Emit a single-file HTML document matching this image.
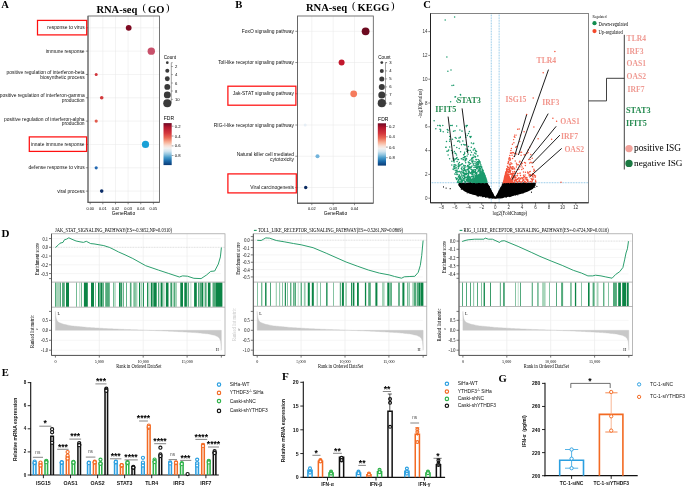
<!DOCTYPE html>
<html><head><meta charset="utf-8"><title>Figure</title>
<style>html,body{margin:0;padding:0;background:#fff;width:685px;height:488px;overflow:hidden;font-family:'Liberation Sans',sans-serif}svg{display:block;will-change:transform}</style>
</head><body>
<svg width="685" height="488" viewBox="0 0 685 488"><text x="1.2" y="4.32" font-size="10.6" text-anchor="start" font-family="'Liberation Serif', serif" font-weight="bold" fill="#000" dominant-baseline="central">A</text>
<text x="96.4" y="9.06" font-size="10.5" text-anchor="start" font-family="'Liberation Serif', serif" font-weight="bold" fill="#000" dominant-baseline="central">RNA-seq</text>
<text x="142.4" y="7.86" font-size="10.5" text-anchor="start" font-family="'Liberation Serif', serif" font-weight="normal" fill="#000" dominant-baseline="central">(</text>
<text x="148.1" y="9.06" font-size="10.5" text-anchor="start" font-family="'Liberation Serif', serif" font-weight="bold" fill="#000" dominant-baseline="central">GO</text>
<text x="165.9" y="7.86" font-size="10.5" text-anchor="start" font-family="'Liberation Serif', serif" font-weight="normal" fill="#000" dominant-baseline="central">)</text>
<line x1="90.2" y1="16" x2="90.2" y2="202.3" stroke="#e6e6e6" stroke-width="0.5"/>
<line x1="102.84" y1="16" x2="102.84" y2="202.3" stroke="#e6e6e6" stroke-width="0.5"/>
<line x1="115.48" y1="16" x2="115.48" y2="202.3" stroke="#e6e6e6" stroke-width="0.5"/>
<line x1="128.12" y1="16" x2="128.12" y2="202.3" stroke="#e6e6e6" stroke-width="0.5"/>
<line x1="140.76" y1="16" x2="140.76" y2="202.3" stroke="#e6e6e6" stroke-width="0.5"/>
<line x1="153.4" y1="16" x2="153.4" y2="202.3" stroke="#e6e6e6" stroke-width="0.5"/>
<line x1="88" y1="27.8" x2="159.5" y2="27.8" stroke="#e6e6e6" stroke-width="0.5"/>
<line x1="88" y1="51.13" x2="159.5" y2="51.13" stroke="#e6e6e6" stroke-width="0.5"/>
<line x1="88" y1="74.46" x2="159.5" y2="74.46" stroke="#e6e6e6" stroke-width="0.5"/>
<line x1="88" y1="97.79" x2="159.5" y2="97.79" stroke="#e6e6e6" stroke-width="0.5"/>
<line x1="88" y1="121.12" x2="159.5" y2="121.12" stroke="#e6e6e6" stroke-width="0.5"/>
<line x1="88" y1="144.45" x2="159.5" y2="144.45" stroke="#e6e6e6" stroke-width="0.5"/>
<line x1="88" y1="167.78" x2="159.5" y2="167.78" stroke="#e6e6e6" stroke-width="0.5"/>
<line x1="88" y1="191.11" x2="159.5" y2="191.11" stroke="#e6e6e6" stroke-width="0.5"/>
<rect x="88" y="16" width="71.5" height="186.3" fill="none" stroke="#555" stroke-width="0.8"/>
<line x1="88" y1="16" x2="88" y2="202.7" stroke="#666" stroke-width="1"/>
<line x1="87.6" y1="202.3" x2="159.5" y2="202.3" stroke="#555" stroke-width="1"/>
<line x1="85.8" y1="27.8" x2="88" y2="27.8" stroke="#444" stroke-width="0.6"/>
<line x1="85.8" y1="51.13" x2="88" y2="51.13" stroke="#444" stroke-width="0.6"/>
<line x1="85.8" y1="74.46" x2="88" y2="74.46" stroke="#444" stroke-width="0.6"/>
<line x1="85.8" y1="97.79" x2="88" y2="97.79" stroke="#444" stroke-width="0.6"/>
<line x1="85.8" y1="121.12" x2="88" y2="121.12" stroke="#444" stroke-width="0.6"/>
<line x1="85.8" y1="144.45" x2="88" y2="144.45" stroke="#444" stroke-width="0.6"/>
<line x1="85.8" y1="167.78" x2="88" y2="167.78" stroke="#444" stroke-width="0.6"/>
<line x1="85.8" y1="191.11" x2="88" y2="191.11" stroke="#444" stroke-width="0.6"/>
<line x1="90.2" y1="202.3" x2="90.2" y2="204.3" stroke="#444" stroke-width="0.6"/>
<text x="90.2" y="208.6" font-size="3.9" text-anchor="middle" font-family="'Liberation Sans', sans-serif" font-weight="normal" fill="#000" dominant-baseline="central">0.00</text>
<line x1="102.84" y1="202.3" x2="102.84" y2="204.3" stroke="#444" stroke-width="0.6"/>
<text x="102.84" y="208.6" font-size="3.9" text-anchor="middle" font-family="'Liberation Sans', sans-serif" font-weight="normal" fill="#000" dominant-baseline="central">0.01</text>
<line x1="115.48" y1="202.3" x2="115.48" y2="204.3" stroke="#444" stroke-width="0.6"/>
<text x="115.48" y="208.6" font-size="3.9" text-anchor="middle" font-family="'Liberation Sans', sans-serif" font-weight="normal" fill="#000" dominant-baseline="central">0.02</text>
<line x1="128.12" y1="202.3" x2="128.12" y2="204.3" stroke="#444" stroke-width="0.6"/>
<text x="128.12" y="208.6" font-size="3.9" text-anchor="middle" font-family="'Liberation Sans', sans-serif" font-weight="normal" fill="#000" dominant-baseline="central">0.03</text>
<line x1="140.76" y1="202.3" x2="140.76" y2="204.3" stroke="#444" stroke-width="0.6"/>
<text x="140.76" y="208.6" font-size="3.9" text-anchor="middle" font-family="'Liberation Sans', sans-serif" font-weight="normal" fill="#000" dominant-baseline="central">0.04</text>
<line x1="153.4" y1="202.3" x2="153.4" y2="204.3" stroke="#444" stroke-width="0.6"/>
<text x="153.4" y="208.6" font-size="3.9" text-anchor="middle" font-family="'Liberation Sans', sans-serif" font-weight="normal" fill="#000" dominant-baseline="central">0.05</text>
<text x="123.5" y="213.6" font-size="4.9" text-anchor="middle" font-family="'Liberation Sans', sans-serif" font-weight="normal" fill="#000" dominant-baseline="central">GeneRatio</text>
<text x="84.6" y="27.8" font-size="4.9" text-anchor="end" font-family="'Liberation Sans', sans-serif" font-weight="normal" fill="#111" dominant-baseline="central">response to virus</text>
<text x="84.6" y="51.13" font-size="4.9" text-anchor="end" font-family="'Liberation Sans', sans-serif" font-weight="normal" fill="#111" dominant-baseline="central">immune response</text>
<text x="84.6" y="72.46" font-size="4.9" text-anchor="end" font-family="'Liberation Sans', sans-serif" font-weight="normal" fill="#111" dominant-baseline="central">positive regulation of interferon-beta</text>
<text x="84.6" y="77.26" font-size="4.9" text-anchor="end" font-family="'Liberation Sans', sans-serif" font-weight="normal" fill="#111" dominant-baseline="central">biosynthetic process</text>
<text x="84.6" y="95.79" font-size="4.9" text-anchor="end" font-family="'Liberation Sans', sans-serif" font-weight="normal" fill="#111" dominant-baseline="central">positive regulation of interferon-gamma</text>
<text x="84.6" y="100.59" font-size="4.9" text-anchor="end" font-family="'Liberation Sans', sans-serif" font-weight="normal" fill="#111" dominant-baseline="central">production</text>
<text x="84.6" y="119.12" font-size="4.9" text-anchor="end" font-family="'Liberation Sans', sans-serif" font-weight="normal" fill="#111" dominant-baseline="central">positive regulation of interferon-alpha</text>
<text x="84.6" y="123.92" font-size="4.9" text-anchor="end" font-family="'Liberation Sans', sans-serif" font-weight="normal" fill="#111" dominant-baseline="central">production</text>
<text x="84.6" y="144.45" font-size="4.9" text-anchor="end" font-family="'Liberation Sans', sans-serif" font-weight="normal" fill="#111" dominant-baseline="central">innate immune response</text>
<text x="84.6" y="167.78" font-size="4.9" text-anchor="end" font-family="'Liberation Sans', sans-serif" font-weight="normal" fill="#111" dominant-baseline="central">defense response to virus</text>
<text x="84.6" y="191.11" font-size="4.9" text-anchor="end" font-family="'Liberation Sans', sans-serif" font-weight="normal" fill="#111" dominant-baseline="central">viral process</text>
<circle cx="128.7" cy="27.8" r="2.9" fill="#7f0a22" stroke="none" stroke-width="0"/>
<circle cx="151.3" cy="51.13" r="3.7" fill="#c8506a" stroke="none" stroke-width="0"/>
<circle cx="96.2" cy="74.46" r="1.5" fill="#d1343a" stroke="none" stroke-width="0"/>
<circle cx="101.7" cy="97.79" r="1.8" fill="#d33a3c" stroke="none" stroke-width="0"/>
<circle cx="96.2" cy="121.12" r="1.6" fill="#e25a4c" stroke="none" stroke-width="0"/>
<circle cx="145.5" cy="144.45" r="3.6" fill="#1aa0d6" stroke="none" stroke-width="0"/>
<circle cx="96.2" cy="167.78" r="1.6" fill="#2368b2" stroke="none" stroke-width="0"/>
<circle cx="101.7" cy="191.11" r="1.8" fill="#0b2d68" stroke="none" stroke-width="0"/>
<rect x="37.5" y="20.4" width="49.2" height="14.5" fill="none" stroke="#ff1010" stroke-width="1.25"/>
<rect x="29.3" y="136.9" width="57.3" height="14.5" fill="none" stroke="#ff1010" stroke-width="1.25"/>
<text x="163.8" y="57" font-size="4.6" text-anchor="start" font-family="'Liberation Sans', sans-serif" font-weight="normal" fill="#000" dominant-baseline="central">Count</text>
<circle cx="167.3" cy="62.7" r="1.35" fill="#3a3a3a" stroke="none" stroke-width="0"/>
<circle cx="167.3" cy="70.7" r="2" fill="#3a3a3a" stroke="none" stroke-width="0"/>
<circle cx="167.3" cy="78.8" r="2.45" fill="#3a3a3a" stroke="none" stroke-width="0"/>
<circle cx="167.3" cy="86.9" r="2.95" fill="#3a3a3a" stroke="none" stroke-width="0"/>
<circle cx="167.3" cy="94.9" r="3.45" fill="#3a3a3a" stroke="none" stroke-width="0"/>
<circle cx="167.3" cy="103.2" r="4.05" fill="#3a3a3a" stroke="none" stroke-width="0"/>
<line x1="171.3" y1="62.7" x2="171.3" y2="103.2" stroke="#444" stroke-width="0.5"/>
<line x1="171.3" y1="62.7" x2="172.7" y2="62.7" stroke="#444" stroke-width="0.5"/>
<line x1="171.3" y1="66.5" x2="172.9" y2="66.5" stroke="#444" stroke-width="0.5"/>
<text x="175" y="66.5" font-size="4.2" text-anchor="start" font-family="'Liberation Sans', sans-serif" font-weight="normal" fill="#000" dominant-baseline="central">2</text>
<line x1="171.3" y1="74.6" x2="172.9" y2="74.6" stroke="#444" stroke-width="0.5"/>
<text x="175" y="74.6" font-size="4.2" text-anchor="start" font-family="'Liberation Sans', sans-serif" font-weight="normal" fill="#000" dominant-baseline="central">4</text>
<line x1="171.3" y1="83" x2="172.9" y2="83" stroke="#444" stroke-width="0.5"/>
<text x="175" y="83" font-size="4.2" text-anchor="start" font-family="'Liberation Sans', sans-serif" font-weight="normal" fill="#000" dominant-baseline="central">6</text>
<line x1="171.3" y1="91" x2="172.9" y2="91" stroke="#444" stroke-width="0.5"/>
<text x="175" y="91" font-size="4.2" text-anchor="start" font-family="'Liberation Sans', sans-serif" font-weight="normal" fill="#000" dominant-baseline="central">8</text>
<line x1="171.3" y1="99.4" x2="172.9" y2="99.4" stroke="#444" stroke-width="0.5"/>
<text x="175" y="99.4" font-size="4.2" text-anchor="start" font-family="'Liberation Sans', sans-serif" font-weight="normal" fill="#000" dominant-baseline="central">10</text>
<defs><linearGradient id="rdbu" x1="0" y1="0" x2="0" y2="1"><stop offset="0" stop-color="#6e0824"/><stop offset="0.1" stop-color="#b3172e"/><stop offset="0.24" stop-color="#d4373d"/><stop offset="0.35" stop-color="#ea6a56"/><stop offset="0.45" stop-color="#f8ae93"/><stop offset="0.54" stop-color="#f8e0d6"/><stop offset="0.6" stop-color="#f1f1f1"/><stop offset="0.67" stop-color="#d0e4ef"/><stop offset="0.74" stop-color="#93c6e0"/><stop offset="0.82" stop-color="#4499c9"/><stop offset="0.9" stop-color="#1b6aaa"/><stop offset="1" stop-color="#0a3a75"/></linearGradient></defs>
<text x="163.8" y="118.4" font-size="5" text-anchor="start" font-family="'Liberation Sans', sans-serif" font-weight="normal" fill="#000" dominant-baseline="central">FDR</text>
<rect x="163.5" y="123.1" width="8.2" height="42" fill="url(#rdbu)" stroke="none" stroke-width="0"/>
<line x1="171.7" y1="126.2" x2="173.5" y2="126.2" stroke="#444" stroke-width="0.5"/>
<text x="174.7" y="126.2" font-size="4.2" text-anchor="start" font-family="'Liberation Sans', sans-serif" font-weight="normal" fill="#000" dominant-baseline="central">0.2</text>
<line x1="171.7" y1="136" x2="173.5" y2="136" stroke="#444" stroke-width="0.5"/>
<text x="174.7" y="136" font-size="4.2" text-anchor="start" font-family="'Liberation Sans', sans-serif" font-weight="normal" fill="#000" dominant-baseline="central">0.4</text>
<line x1="171.7" y1="145.9" x2="173.5" y2="145.9" stroke="#444" stroke-width="0.5"/>
<text x="174.7" y="145.9" font-size="4.2" text-anchor="start" font-family="'Liberation Sans', sans-serif" font-weight="normal" fill="#000" dominant-baseline="central">0.6</text>
<line x1="171.7" y1="155.5" x2="173.5" y2="155.5" stroke="#444" stroke-width="0.5"/>
<text x="174.7" y="155.5" font-size="4.2" text-anchor="start" font-family="'Liberation Sans', sans-serif" font-weight="normal" fill="#000" dominant-baseline="central">0.8</text>
<text x="235.2" y="4.82" font-size="10.6" text-anchor="start" font-family="'Liberation Serif', serif" font-weight="bold" fill="#000" dominant-baseline="central">B</text>
<text x="305.9" y="7.02" font-size="10.6" text-anchor="start" font-family="'Liberation Serif', serif" font-weight="bold" fill="#000" dominant-baseline="central">RNA-seq</text>
<text x="351.9" y="5.82" font-size="10.6" text-anchor="start" font-family="'Liberation Serif', serif" font-weight="normal" fill="#000" dominant-baseline="central">(</text>
<text x="357.6" y="7.02" font-size="10.6" text-anchor="start" font-family="'Liberation Serif', serif" font-weight="bold" fill="#000" dominant-baseline="central">KEGG</text>
<text x="390.9" y="5.82" font-size="10.6" text-anchor="start" font-family="'Liberation Serif', serif" font-weight="normal" fill="#000" dominant-baseline="central">)</text>
<line x1="311.8" y1="16" x2="311.8" y2="203.2" stroke="#e6e6e6" stroke-width="0.5"/>
<line x1="333.2" y1="16" x2="333.2" y2="203.2" stroke="#e6e6e6" stroke-width="0.5"/>
<line x1="354.5" y1="16" x2="354.5" y2="203.2" stroke="#e6e6e6" stroke-width="0.5"/>
<line x1="297.5" y1="31.3" x2="373.3" y2="31.3" stroke="#e6e6e6" stroke-width="0.5"/>
<line x1="297.5" y1="62.54" x2="373.3" y2="62.54" stroke="#e6e6e6" stroke-width="0.5"/>
<line x1="297.5" y1="93.78" x2="373.3" y2="93.78" stroke="#e6e6e6" stroke-width="0.5"/>
<line x1="297.5" y1="125.02" x2="373.3" y2="125.02" stroke="#e6e6e6" stroke-width="0.5"/>
<line x1="297.5" y1="156.26" x2="373.3" y2="156.26" stroke="#e6e6e6" stroke-width="0.5"/>
<line x1="297.5" y1="187.5" x2="373.3" y2="187.5" stroke="#e6e6e6" stroke-width="0.5"/>
<rect x="297.5" y="16" width="75.8" height="187.2" fill="none" stroke="#555" stroke-width="0.8"/>
<line x1="297.5" y1="16" x2="297.5" y2="203.6" stroke="#666" stroke-width="1"/>
<line x1="297.1" y1="203.2" x2="373.3" y2="203.2" stroke="#555" stroke-width="1"/>
<line x1="295.3" y1="31.3" x2="297.5" y2="31.3" stroke="#444" stroke-width="0.6"/>
<line x1="295.3" y1="62.54" x2="297.5" y2="62.54" stroke="#444" stroke-width="0.6"/>
<line x1="295.3" y1="93.78" x2="297.5" y2="93.78" stroke="#444" stroke-width="0.6"/>
<line x1="295.3" y1="125.02" x2="297.5" y2="125.02" stroke="#444" stroke-width="0.6"/>
<line x1="295.3" y1="156.26" x2="297.5" y2="156.26" stroke="#444" stroke-width="0.6"/>
<line x1="295.3" y1="187.5" x2="297.5" y2="187.5" stroke="#444" stroke-width="0.6"/>
<line x1="311.8" y1="203.2" x2="311.8" y2="205.2" stroke="#444" stroke-width="0.6"/>
<text x="311.8" y="208.8" font-size="3.9" text-anchor="middle" font-family="'Liberation Sans', sans-serif" font-weight="normal" fill="#000" dominant-baseline="central">0.02</text>
<line x1="333.2" y1="203.2" x2="333.2" y2="205.2" stroke="#444" stroke-width="0.6"/>
<text x="333.2" y="208.8" font-size="3.9" text-anchor="middle" font-family="'Liberation Sans', sans-serif" font-weight="normal" fill="#000" dominant-baseline="central">0.03</text>
<line x1="354.5" y1="203.2" x2="354.5" y2="205.2" stroke="#444" stroke-width="0.6"/>
<text x="354.5" y="208.8" font-size="3.9" text-anchor="middle" font-family="'Liberation Sans', sans-serif" font-weight="normal" fill="#000" dominant-baseline="central">0.04</text>
<text x="335.5" y="213.6" font-size="4.9" text-anchor="middle" font-family="'Liberation Sans', sans-serif" font-weight="normal" fill="#000" dominant-baseline="central">GeneRatio</text>
<text x="294" y="31.5" font-size="4.9" text-anchor="end" font-family="'Liberation Sans', sans-serif" font-weight="normal" fill="#111" dominant-baseline="central">FoxO signaling pathway</text>
<text x="294" y="62.74" font-size="4.9" text-anchor="end" font-family="'Liberation Sans', sans-serif" font-weight="normal" fill="#111" dominant-baseline="central">Toll-like receptor signaling pathway</text>
<text x="294" y="93.98" font-size="4.9" text-anchor="end" font-family="'Liberation Sans', sans-serif" font-weight="normal" fill="#111" dominant-baseline="central">Jak-STAT signaling pathway</text>
<text x="294" y="125.22" font-size="4.9" text-anchor="end" font-family="'Liberation Sans', sans-serif" font-weight="normal" fill="#111" dominant-baseline="central">RIG-I-like receptor signaling pathway</text>
<text x="294" y="154.26" font-size="4.9" text-anchor="end" font-family="'Liberation Sans', sans-serif" font-weight="normal" fill="#111" dominant-baseline="central">Natural killer cell mediated</text>
<text x="294" y="159.06" font-size="4.9" text-anchor="end" font-family="'Liberation Sans', sans-serif" font-weight="normal" fill="#111" dominant-baseline="central">cytotoxicity</text>
<text x="294" y="187.7" font-size="4.9" text-anchor="end" font-family="'Liberation Sans', sans-serif" font-weight="normal" fill="#111" dominant-baseline="central">Viral carcinogenesis</text>
<circle cx="365.6" cy="31.3" r="3.9" fill="#6d0a20" stroke="none" stroke-width="0"/>
<circle cx="341.6" cy="62.54" r="3" fill="#c2182d" stroke="none" stroke-width="0"/>
<circle cx="353.7" cy="93.78" r="3.4" fill="#f57b5d" stroke="none" stroke-width="0"/>
<circle cx="305.2" cy="125.02" r="1.5" fill="#e6eef5" stroke="none" stroke-width="0"/>
<circle cx="317.5" cy="156.26" r="2" fill="#72b4dc" stroke="none" stroke-width="0"/>
<circle cx="305.7" cy="187.5" r="1.7" fill="#0a2b62" stroke="none" stroke-width="0"/>
<rect x="227.9" y="86.2" width="68" height="19" fill="none" stroke="#ff1010" stroke-width="1.25"/>
<rect x="227.9" y="173.9" width="68.4" height="19" fill="none" stroke="#ff1010" stroke-width="1.25"/>
<text x="378.3" y="57" font-size="4.6" text-anchor="start" font-family="'Liberation Sans', sans-serif" font-weight="normal" fill="#000" dominant-baseline="central">Count</text>
<circle cx="381.8" cy="62.6" r="1.4" fill="#3a3a3a" stroke="none" stroke-width="0"/>
<circle cx="381.8" cy="70.9" r="2" fill="#3a3a3a" stroke="none" stroke-width="0"/>
<circle cx="381.8" cy="78.9" r="2.5" fill="#3a3a3a" stroke="none" stroke-width="0"/>
<circle cx="381.8" cy="86.9" r="3" fill="#3a3a3a" stroke="none" stroke-width="0"/>
<circle cx="381.8" cy="94.9" r="3.5" fill="#3a3a3a" stroke="none" stroke-width="0"/>
<circle cx="381.8" cy="103.2" r="4.1" fill="#3a3a3a" stroke="none" stroke-width="0"/>
<line x1="385.5" y1="62.6" x2="385.5" y2="103.2" stroke="#444" stroke-width="0.5"/>
<line x1="385.5" y1="62.6" x2="386.9" y2="62.6" stroke="#444" stroke-width="0.5"/>
<line x1="385.5" y1="62.6" x2="387.1" y2="62.6" stroke="#444" stroke-width="0.5"/>
<text x="389.2" y="62.6" font-size="4.2" text-anchor="start" font-family="'Liberation Sans', sans-serif" font-weight="normal" fill="#000" dominant-baseline="central">3</text>
<line x1="385.5" y1="70.9" x2="387.1" y2="70.9" stroke="#444" stroke-width="0.5"/>
<text x="389.2" y="70.9" font-size="4.2" text-anchor="start" font-family="'Liberation Sans', sans-serif" font-weight="normal" fill="#000" dominant-baseline="central">4</text>
<line x1="385.5" y1="78.9" x2="387.1" y2="78.9" stroke="#444" stroke-width="0.5"/>
<text x="389.2" y="78.9" font-size="4.2" text-anchor="start" font-family="'Liberation Sans', sans-serif" font-weight="normal" fill="#000" dominant-baseline="central">5</text>
<line x1="385.5" y1="86.9" x2="387.1" y2="86.9" stroke="#444" stroke-width="0.5"/>
<text x="389.2" y="86.9" font-size="4.2" text-anchor="start" font-family="'Liberation Sans', sans-serif" font-weight="normal" fill="#000" dominant-baseline="central">6</text>
<line x1="385.5" y1="94.9" x2="387.1" y2="94.9" stroke="#444" stroke-width="0.5"/>
<text x="389.2" y="94.9" font-size="4.2" text-anchor="start" font-family="'Liberation Sans', sans-serif" font-weight="normal" fill="#000" dominant-baseline="central">7</text>
<line x1="385.5" y1="103.2" x2="387.1" y2="103.2" stroke="#444" stroke-width="0.5"/>
<text x="389.2" y="103.2" font-size="4.2" text-anchor="start" font-family="'Liberation Sans', sans-serif" font-weight="normal" fill="#000" dominant-baseline="central">8</text>
<text x="378.1" y="118.9" font-size="5" text-anchor="start" font-family="'Liberation Sans', sans-serif" font-weight="normal" fill="#000" dominant-baseline="central">FDR</text>
<rect x="377.8" y="123.3" width="8.2" height="42.3" fill="url(#rdbu)" stroke="none" stroke-width="0"/>
<line x1="386" y1="126.5" x2="387.8" y2="126.5" stroke="#444" stroke-width="0.5"/>
<text x="389" y="126.5" font-size="4.2" text-anchor="start" font-family="'Liberation Sans', sans-serif" font-weight="normal" fill="#000" dominant-baseline="central">0.2</text>
<line x1="386" y1="136.8" x2="387.8" y2="136.8" stroke="#444" stroke-width="0.5"/>
<text x="389" y="136.8" font-size="4.2" text-anchor="start" font-family="'Liberation Sans', sans-serif" font-weight="normal" fill="#000" dominant-baseline="central">0.4</text>
<line x1="386" y1="147.1" x2="387.8" y2="147.1" stroke="#444" stroke-width="0.5"/>
<text x="389" y="147.1" font-size="4.2" text-anchor="start" font-family="'Liberation Sans', sans-serif" font-weight="normal" fill="#000" dominant-baseline="central">0.6</text>
<line x1="386" y1="157.7" x2="387.8" y2="157.7" stroke="#444" stroke-width="0.5"/>
<text x="389" y="157.7" font-size="4.2" text-anchor="start" font-family="'Liberation Sans', sans-serif" font-weight="normal" fill="#000" dominant-baseline="central">0.8</text>
<text x="423.3" y="4.22" font-size="10.6" text-anchor="start" font-family="'Liberation Serif', serif" font-weight="bold" fill="#000" dominant-baseline="central">C</text>
<line x1="491.27" y1="13.5" x2="491.27" y2="202.8" stroke="#4aa3d8" stroke-width="0.7" stroke-dasharray="0.8,0.8"/>
<line x1="499.13" y1="13.5" x2="499.13" y2="202.8" stroke="#4aa3d8" stroke-width="0.7" stroke-dasharray="0.8,0.8"/>
<line x1="430.5" y1="182.73" x2="588.5" y2="182.73" stroke="#4aa3d8" stroke-width="0.7" stroke-dasharray="0.8,0.8"/>
<polygon points="458.58,182.73 487.47,182.73 495.2,197.96 503.4,182.73 535.86,182.73 535.52,185.7 532.83,188.92 527.46,191.66 520.74,193.92 513.34,195.82 505.28,197.13 495.2,198.2 485.12,197.01 476.38,195.58 469.66,193.68 464.29,191.3 460.26,188.08 458.58,185.11" fill="#000" stroke="none" stroke-width="0"/>
<path d="M476.1 183.1h0M497.4 197h0M489.9 189.8h0M497.2 197.3h0M506.7 193.6h0M474.1 183.9h0M481 189h0M494.8 197.5h0M479.8 192.6h0M496.2 196.6h0M482.9 194.4h0M495 198.1h0M507.4 183h0M474.3 183.8h0M485.7 187h0M473.2 185.1h0M497.8 193.9h0M487.3 193.2h0M496.3 198.1h0M525.4 187.4h0M482 188.3h0M515 183.9h0M512.8 195.3h0M487.2 187.7h0M524.7 184h0M519.4 190.7h0M503.3 186.4h0M514.2 182.9h0M490.2 191h0M490.3 197.5h0M510.7 185.7h0M478.2 184.4h0M466 186.3h0M481.6 190h0M485.8 197.3h0M503.5 195.3h0M497.9 194.6h0M485.9 186.1h0M489.7 194.6h0M480 192.9h0M502.6 187.9h0M513.1 183.5h0M480.3 184h0M522.1 190.3h0M513 183.2h0M489.7 189.6h0M489.8 192.5h0M504.6 190.4h0M521.3 187.8h0M501.1 192.5h0M494.9 198.1h0M485 188.9h0M495.9 198.1h0M507.2 196.5h0M485.1 183.5h0M508.2 187.9h0M483.4 193.9h0M502.2 191.4h0M501.8 192.3h0M493.5 195.8h0M496.5 196.5h0M478.1 183.6h0M503.6 189.6h0M489.3 186.6h0M486.6 186.2h0M493.7 198h0M505.2 193.5h0M509 186.7h0M493.5 195.6h0M483.5 187.9h0M491.1 194.7h0M480.9 195.4h0M462.2 183.6h0M500.5 197.4h0M504.8 187.3h0M499.8 194.1h0M505 189.1h0M505.4 186.5h0M479.2 187.1h0M506.3 188.4h0M515.5 193.9h0M501.3 197.3h0M492.8 197.8h0M495.6 197.9h0M489 186.4h0M496.4 196.1h0M477.4 191.9h0M496.7 195.3h0M503.5 194.4h0M503 184.8h0M481.4 191.3h0M494.4 196.9h0M494.1 196.6h0M519 189.2h0M485.6 190.9h0M506 192.8h0M485.3 193.1h0M485.5 186.1h0M480.6 184.4h0M499.4 194.3h0M474.8 183h0M515.4 185.5h0M478.9 186.3h0M506.8 193h0M489.9 191.2h0M462.8 185.6h0M477.2 193.1h0M503 186.3h0M458.7 184.9h0M486 187h0M509.1 186h0M496.7 197.4h0M488 192.3h0M489 186h0M505 196.7h0M523.2 187h0M506.3 191.7h0M472.1 187.6h0M489.8 190.2h0M473.1 187.9h0M495 198h0M516.2 188.5h0M502.5 186.9h0M494.6 197.8h0M490.4 195.5h0M462.6 186.4h0M479.7 194.3h0M492.4 194.7h0M510.8 192.6h0M482.9 185.5h0M488.6 190.2h0M498.8 194.8h0M487.5 189.3h0M507.2 186.2h0M491.6 197.6h0M488.8 189.3h0M514.8 185h0M487.4 192.4h0M502.5 190.2h0M508.1 187.7h0M497.2 197.6h0M485 183.7h0M520.5 191.2h0M498.1 197.6h0M501.2 188.6h0M494.5 197.5h0M484.7 187.2h0M519.7 184.3h0M499.6 196.3h0M489.2 194h0M475.2 184.3h0M498.2 196.3h0M510.1 190.5h0M501.9 190h0M479.1 182.9h0M496.8 196.2h0M504.6 195.4h0M507.2 190.9h0M492.5 195.8h0M509.2 187.3h0M468.8 191.7h0M482.3 194h0M511.8 184.3h0M501.9 193.2h0M488.3 194.8h0M494.4 197.1h0M491.1 197.6h0M504.3 189h0M481.1 195.5h0M507.3 183h0M498.6 194.1h0M498.3 197.5h0M491.5 198h0M492.5 196.7h0M487.3 187.7h0M491.2 194.5h0M484 193.1h0M483.5 192.1h0M490.5 195.7h0M492.5 198.1h0M505.3 192.9h0M486.3 196h0M489.4 188.4h0M479.4 192.2h0M498.3 192.7h0M495.7 197.6h0M476.4 186.8h0M481.3 191.4h0M495.2 198.2h0M479 189.1h0M498.4 193.1h0M502.7 197.5h0M489.2 194.5h0M518.7 187.2h0M500 195.4h0M505 185.2h0M520.5 186.3h0M487.2 190.9h0M474.5 190.3h0M469 182.8h0M486.2 184h0M497.9 196.8h0M490.7 189.5h0M479.6 192.3h0M490.8 190.7h0M490.9 197.4h0M497.4 197.5h0M495.1 198.1h0M491 193.5h0M490.2 188.9h0M474.3 187.9h0M504.2 189h0M502.2 185.7h0M508.5 187.4h0M498.2 194.9h0M509.5 192.1h0M478.4 196.1h0M486.3 194.4h0M490 197.3h0M487.4 186.4h0M478.2 188.7h0M524.4 191.6h0M488.4 187.1h0M487.3 186.9h0M495.4 198.2h0M490.6 190.9h0M500.9 197.7h0M502.2 195.7h0M461.8 187.9h0M500.8 195.2h0M499.2 193.1h0M487.6 188.8h0M498.9 194h0M493.6 197h0M499.8 191.7h0M486 194.9h0M459.9 186.5h0M496.3 197.6h0M512.7 195.3h0M485.2 194.8h0M496.1 196.7h0M506.3 187.1h0M515 187.5h0M492.7 196.2h0M492 197.8h0M479.9 189.8h0M482.9 196.5h0M506.2 197h0M508.1 192.4h0M493.8 197.8h0M470.3 192.1h0M478.8 189.6h0M472.3 188h0M495.2 198.2h0M503.2 196.6h0M515.3 184.5h0M503.7 190.7h0M497 195.2h0M478.9 186h0M480 186.6h0M519 192.7h0M503.2 195.3h0M498.3 192.7h0M496 197.6h0M498.8 192.2h0M497.3 195.6h0M498.4 197.4h0M493.3 197.1h0M497.6 197.2h0M501.3 190.4h0M499.2 193.9h0M502.3 192.7h0M505.5 190h0M509.3 191.4h0M491.4 193.6h0M495.8 198h0M494.3 196.5h0M496.8 196.4h0M482.1 183.6h0M505.7 195.5h0M479.5 191.4h0M509.3 186.9h0M498.5 196.3h0M493.1 196.9h0M495.2 198.2h0M471.7 183.6h0M500.5 189.2h0M507.6 186.1h0M523.7 185.4h0M519.6 184.3h0M483.3 183.3h0M509.2 184.2h0M470.2 182.7h0M482.1 185h0M476.2 193.9h0M466.9 188.8h0M488.6 188h0M492.4 197.8h0M487.7 193.1h0M487.3 188.7h0M500.5 189.2h0M508.9 182.9h0M494.2 196.8h0M508 194.4h0M500.4 192.4h0M487.9 193.1h0M495.8 198.2h0M495.2 198.2h0M488.7 189.8h0M514.8 192.7h0M503.7 190.5h0M490.7 189.8h0M469.1 189.1h0M489.6 194.6h0M507.5 186.5h0M475.3 193.6h0M499.9 190.9h0M504.1 188.5h0M493.3 197.6h0M508.8 194.4h0M498.3 193.8h0M477.1 183.2h0M486.4 196.8h0M498.2 195.5h0M497.3 194.8h0M488.4 186.5h0M479.7 191.5h0M509.8 196.4h0M507.7 193.9h0M503 196.8h0M496.7 196.6h0M507.9 185.3h0M508.4 192.1h0M509.8 186.5h0M509 184.4h0M478.5 184.6h0M489.3 190.2h0M506.1 186h0M493.5 196h0M493.3 196.4h0M495.6 198h0M482.3 189.8h0M485.6 196.7h0M507.6 187.3h0M508.7 182.9h0M498.2 195.5h0M484.5 190h0M499.7 190h0M482.5 190.2h0M482.9 192h0M504.4 182.7h0M508.2 195.9h0M499.1 192.9h0M499.7 194.4h0M501.4 190.7h0M496.4 197.5h0M480.7 191.6h0M502.3 197.7h0M489.2 187.6h0M488.1 196h0M496 196.8h0M495.2 198.2h0M490.3 196h0M477.9 195.5h0M501.3 186.9h0M491.4 192.3h0M501.6 196.6h0M514.2 189.7h0M499.7 190.1h0M497.5 198h0M486.4 188.7h0M484 183.9h0M497.3 197.3h0M491.9 192.2h0M491.1 190.5h0M486.5 186.9h0M487.2 184.2h0M496.3 197.1h0M491.5 197.1h0M463.7 183.9h0M485.8 193.9h0M484.1 194.9h0M491.4 192.6h0M495.9 197.6h0M483 187.1h0M493.1 197.7h0M480.3 195.4h0M507.4 190h0M517.2 187.1h0M486.7 195.1h0M504.9 183.1h0M489.6 190.4h0M490.9 193h0M477.8 188h0M480.2 184.5h0M508.7 187.7h0M492.6 196.2h0M484.3 187.9h0M502 193.2h0M479.6 185.5h0M516.1 186.8h0M502.6 188.7h0M484.2 193.7h0M492.7 194.3h0M500.9 187.8h0M490.9 197.1h0M507.6 195.1h0M476.9 194.9h0M473.6 192h0M495.7 197.2h0M485.6 192.3h0M486.3 193.3h0M496.7 196.9h0M491.4 197.9h0M516.6 187.2h0M499.1 196.6h0M483.9 195.6h0M516.3 187.7h0M506.3 197.2h0M477.8 191.9h0M500.5 197.7h0M484.2 183.1h0M501.2 193.8h0M519.1 187.7h0M482.5 195.3h0M497.3 195.9h0M489.7 197h0M506.7 195h0M502.8 183.3h0M469.9 183.2h0M481.7 186.2h0M485.9 186h0M483.1 187.5h0M504.2 191.5h0M509 189.6h0M490.5 192.8h0M475.2 185.4h0M497.9 197.4h0M489.9 197.5h0M513.3 191.9h0M523.9 188.4h0M478.3 192.5h0M498.9 192.4h0M482.4 185.6h0M517.8 194.8h0M489.5 188.2h0M493.4 197.9h0M492.7 195.3h0M518.1 186.7h0M481.3 194h0M503.7 190.8h0M494.3 198h0M515.3 193.8h0M500.6 191.9h0M510.9 196.5h0M520.6 189.7h0M493.1 197.5h0M512.1 193.9h0M462.4 184.8h0M508.3 194.1h0M466.4 191.5h0M500.2 189.3h0M503.6 184.1h0M488.3 193.2h0M496.4 197.6h0M482.4 186h0M478 190.3h0M480.7 191.6h0M499.2 194.5h0M486.8 192.8h0M475.7 188.4h0M497.7 196.3h0M498.4 195.9h0M500.6 193.6h0M496.3 196.1h0M496.9 197.1h0M492.4 196.1h0M492.5 195h0M502 186.9h0M489 196.7h0M500.9 197.8h0M496.1 196.9h0M485.5 185.8h0M502.7 193.2h0M499.6 191.5h0M494.3 197.4h0M483.8 192.2h0M471.7 191.5h0M499.4 191.4h0M511.2 183.3h0M486.4 183.7h0M514.9 193h0M531.7 183.4h0M503.5 191.1h0M503.1 185.2h0M491.4 191.4h0M487 184.8h0M490.9 195.7h0M494.9 198h0M467.2 186.9h0M510.9 185.2h0M504.3 186.7h0M499.6 195.2h0M495.9 198.1h0M500 194.2h0M482.2 189h0M491.3 195.9h0M515.2 191.3h0M497.3 196.1h0M487.5 197h0M502.6 193.6h0M493.2 198.1h0M501.5 192h0M522.6 189.5h0M498.6 195.2h0M492.3 197.6h0M494.7 197.5h0M480.5 191.9h0M489.8 190h0M471.4 184.7h0M494.7 197.4h0M492.2 195.4h0M475.3 188.7h0M480.8 185.3h0M487.4 184.9h0M516.5 187.5h0M502.4 189.5h0M498.8 194.8h0M492.9 196.4h0M502.8 189.5h0M492.6 197.4h0M495.6 197.6h0M479.6 192.3h0M496.4 197.7h0M494.1 196.6h0M512.1 192.6h0M479.1 195.4h0M489.7 197.4h0M474.1 183.5h0M491.7 194.9h0M494.6 197.8h0M517.4 183.5h0M512.3 194.6h0M485.1 187.6h0M498.8 197.3h0M488.3 191.5h0M507.2 190.9h0M468.9 183.5h0M477.1 184h0M499.8 195.9h0M486.7 190.8h0M483.8 192.2h0M480.8 182.8h0M494.2 198h0M497.7 197.1h0M492.1 197.9h0M469.6 191.2h0M496.3 196.2h0M518.8 191.4h0M523.3 183h0M516.2 186.3h0M473.3 185.6h0M499 194.3h0M493 195.3h0M511.5 192h0M490.3 188.9h0M489.4 195.6h0M500.3 188.7h0M529 183.3h0M509.4 185.3h0M473.3 188.1h0M514.7 184.9h0M505 185.1h0M499.8 191.5h0M496.5 196.9h0M527.5 187.5h0M469.7 186.4h0M484.7 192.1h0M477.4 187.6h0M521.5 185.8h0M507.1 185.6h0M486.3 190.9h0M497.3 195.3h0M489 197.9h0M493.3 196.7h0M495.5 198.1h0M504.8 191.4h0M485.2 187.5h0M467.2 192.8h0M507.6 186.6h0M481.6 188.2h0M487.7 196.8h0M504.9 187.7h0M514.4 183.9h0M502 189.1h0M476 183.3h0M480.1 185.3h0M510.1 196.5h0M494.3 197.1h0M477.9 188h0M474.7 190.8h0M520.5 187h0M495.9 196.7h0M473.3 185.5h0M480.6 182.9h0M467.3 189h0M501.9 197.8h0M489.5 186.9h0M506.3 191.6h0M492 197.5h0M515.5 191.6h0M489.7 191.6h0M499.4 194.6h0M499.1 190.6h0M483.6 194.5h0M485.8 197.4h0M493.3 197.1h0M504 190.4h0M488.4 191h0M493.5 198h0M511.7 191.6h0M489.9 190h0M519.3 186.2h0M472.9 185.9h0M480.1 195.9h0M510.4 185h0M511.5 182.9h0M496.4 196.8h0M487.4 188.4h0M489.5 187.2h0M490.8 193.7h0M490.7 194.7h0M532.8 184.4h0M490.1 195.9h0M486.1 193.1h0M486 187.7h0M487.8 185h0M523.3 183.5h0M493.6 197.4h0M497.8 195.2h0M490 197.3h0M521.8 192.2h0M514.3 186.4h0M494.5 197.2h0M495.1 198.2h0M514 189.4h0M479 190.3h0M515.7 194.9h0M498.8 194.4h0M513.3 194.5h0M486.1 186.9h0M491.6 192.7h0M483.7 188.9h0M481.1 193h0M503.7 193.4h0M504.7 186.1h0M487.2 192.3h0M495.5 197.7h0M495.9 197.2h0M513 195.3h0M493.2 197.5h0M512.8 187.8h0M500.8 187.5h0M492.4 196.9h0M504.6 195.4h0M510.6 190.8h0M498 196.1h0M506.3 185.3h0M491.7 194.4h0M497.8 195h0M497.2 194.8h0M515.1 192.6h0M501.7 189.3h0M506 193.8h0M476.4 193.8h0M524.5 183.5h0M489.1 191.5h0M507.4 184h0M499.3 197.6h0M494.1 196.3h0M499 195.5h0M506.2 194.4h0M501.4 192.7h0M480.5 195.4h0M482.1 189.4h0M508.8 185.5h0M500.2 195.5h0M499.6 194.7h0M486.2 185.8h0M512.3 189h0M495.6 197.7h0M514.8 192.8h0M488.5 195.3h0M484.3 189.3h0M496.4 198h0M490.4 197.6h0M482.1 195.3h0M519.2 184.1h0M484.8 191.7h0M503.4 186.8h0M494.4 196.7h0M495.5 198.1h0M496.4 198h0M501.3 192.3h0M477.9 194.7h0M490.6 196.9h0M489.5 191.4h0M480.2 185.2h0M476.3 194h0M492.7 195.7h0M502.3 197.5h0M508.9 185.5h0M480.2 189.9h0M516.9 184.8h0M481.8 185.5h0M497.8 197.9h0M507.3 186.1h0M501.7 194.2h0M470.7 183.1h0M506.5 186.3h0M517.8 191.6h0M474.7 187.6h0M513.8 183.4h0M503.1 190.2h0M505.8 196.5h0M509 190.4h0M507.4 185.4h0M501.9 188.2h0M504.2 191.1h0M483.4 196.5h0M499.4 194.7h0M478.3 194.3h0M490.5 197h0M496.4 198h0M488.7 187.5h0M498.5 194.2h0M506.6 195h0M482.5 193.2h0M504.7 188h0M480.1 187.9h0M503.8 191.2h0M497.9 193.7h0M512.1 192.8h0M488.9 197.4h0M482.3 183.7h0M490.2 196h0M495.9 198.2h0M497.5 194.5h0M500.6 197.9h0M489.6 191.7h0M495.6 197.5h0M513.8 186.1h0M491.8 196.2h0M513.2 185.9h0M493.8 196.3h0M522.3 183.9h0M476.3 188.2h0M522.7 190.5h0M488.2 196.3h0M486 197h0M487.5 196.3h0M488.8 188.3h0M509.3 193h0M512.7 191.3h0M518.2 184.7h0M484.8 183h0M470.2 187h0M476.1 188.2h0M489.3 191.5h0M506.9 193.7h0M478.3 186.5h0M474.3 192.5h0M507.9 190.9h0M497.4 194.5h0M479.7 188.2h0M490.5 192.9h0M487.7 189.8h0M479.8 193.3h0M505.5 184.4h0M505.3 183.5h0M490.5 193.3h0M512.1 190.1h0M505.5 196.2h0M516.5 192.4h0M493.6 197.6h0M504.1 196.5h0M487 188.1h0M494 196.7h0M484.3 188.4h0M484.3 193.1h0M475.2 192.8h0M499.8 191.5h0M463.9 186.2h0M476.6 188.7h0M496.5 197.3h0M484.2 191.1h0M493.1 197.4h0M473.9 183.3h0M510.8 182.8h0M493.4 196h0M490.9 197.9h0M499 193.7h0M491.5 192.5h0M477 190.2h0M494.3 197h0M476.9 188.7h0M486.6 196.4h0M480.3 187.3h0M491.1 190.4h0M481.6 190.1h0M503.3 192.4h0M509.1 194.6h0M501.6 189.1h0M489.8 196.2h0M490.3 197.2h0M496.1 196.4h0M494.1 196.1h0M477 189.9h0M501.3 196h0M486.3 184.7h0M506.6 195.7h0M480.5 189h0M491.5 192.4h0M485.6 183.4h0M488.3 189.8h0M492.9 194.3h0M512 195.7h0M485.9 193.3h0M482.7 194.9h0M496.8 196.8h0M509.5 188.4h0M492.8 195.9h0M513.7 185.4h0M498.5 191.8h0M485.9 189.5h0M490 190.7h0M504.1 191.2h0M491 191.1h0M485.7 193.7h0M505.1 191.6h0M484.7 189h0M478.4 188.7h0M492.8 193.6h0M494.9 197.7h0M489.3 197.8h0M518.7 191.3h0M503.3 197.3h0M502.2 186.4h0M509.2 196.6h0M496.3 198.1h0M497.1 197h0M459.9 184.5h0M497.2 194.8h0M470.4 186.5h0M479.3 193.2h0M484.5 195.8h0M506.2 183.8h0M486.3 190.3h0M496.2 196.7h0M492.6 197.7h0M512.9 192.9h0M501.3 189.8h0M509.9 193.6h0M488.5 188.1h0M478.7 182.8h0M472.7 189.3h0M486.8 196.5h0M494.7 197.5h0M498.1 197.7h0M497.4 195.9h0M498.7 192.9h0M505.1 190.9h0M507.4 182.8h0M511.4 187.9h0M479.5 186.8h0M500.9 188.8h0M497.5 194.7h0M485.3 196h0M506.3 194.7h0M506.7 189.1h0M488.4 192.2h0M526.7 184.4h0M509.1 186h0M490.2 193.2h0M489.6 190.8h0M499.3 190.7h0M490.7 193.5h0M484.3 192.2h0M477.3 196h0M509.8 190h0M487.6 187.1h0M494.6 197.9h0M486.9 188.8h0M501 193.1h0M489.5 189.3h0M482.3 189.2h0M507.6 193.5h0M504.8 193.2h0M509.8 186.4h0M490.3 196.5h0M490.6 196.1h0M490.3 196.8h0M524.2 183.1h0M499.8 194.8h0M517 186.9h0M496.9 198h0M495.7 198h0M490.2 190.4h0M496.3 197.1h0M485.4 185.7h0M482.2 194.4h0M485.3 196.5h0M501.4 190.7h0M510.4 190.3h0M483.8 187.9h0M482.1 191.2h0M504.2 184.5h0M481.3 182.9h0M506.1 187.3h0M474.8 188.4h0M495.3 198.1h0M501.4 194.9h0M482.3 188.4h0M484.2 191.1h0M496 197.2h0M506.6 184.4h0M490.3 193.8h0M505.8 191.1h0M480 186h0M478.5 185.3h0M489.7 193.2h0M459.7 185.3h0M488.4 187h0M485.7 191.4h0M480 191.6h0M489.5 197.9h0M492.5 193.1h0M510.2 194.8h0M524.8 184.8h0M474.5 191.8h0M522.7 192.5h0M498.5 196.2h0M513.8 185.1h0M487.7 185.7h0M502.1 196.6h0M509.5 191.5h0M470.4 190.9h0M495.9 197.3h0M501.7 197.2h0M503.2 189h0M477 190.4h0M484.3 183.7h0M492.2 193h0M478 193.8h0M490.7 192.8h0M511.6 183.3h0M493.4 194.9h0M491.5 194.7h0M501.5 190.3h0M517.1 184.5h0M485.4 190.6h0M491.9 195.1h0M484.6 195.3h0M509.4 193.3h0M497.5 195.8h0M497.3 195.1h0M471.5 187.3h0M511.8 187.4h0M488.7 193.5h0M523.2 184.3h0M496.4 196.5h0M528.3 189.4h0M494.3 197.5h0M487.4 192.1h0M488.7 195.9h0M506.2 191.5h0M515.1 191h0M508.5 186.8h0M462.5 183.7h0M511.1 186.8h0M511.3 183.7h0M470.2 189.4h0M491 195.1h0M492.4 196.3h0M494 196.4h0M494.1 198h0M481.5 185h0M502.4 189h0M507.1 193.8h0M511.1 188h0M466.5 188.3h0M512.6 192.5h0M482.7 192.1h0M526.6 189.5h0M475.7 183.5h0M490.8 197.4h0M484.9 190.2h0M514.1 186.8h0M492.5 197.9h0M489.9 196.2h0M492.4 196.5h0M503.2 196.1h0M511.4 186.1h0M497.9 197.3h0M513.2 195h0M507.3 195.2h0M483.9 185.9h0M495.9 197.5h0M482.3 196.7h0M493.3 195.1h0M475.9 194.4h0M511.3 190.5h0M487.6 196.7h0M493.3 194.6h0M471 188h0M493.2 196.3h0M477.1 193.8h0M486.1 187.5h0M483.9 196.7h0M493.4 195.5h0M501.5 192.1h0M489.9 192.7h0M518 191.3h0M494.6 198.1h0M495.7 198.2h0M522 187.6h0M488.6 185.9h0M475.5 194.3h0M490.2 193.8h0M484.6 187.8h0M486.3 192.5h0M490 193.1h0M487.6 191.5h0M490.7 196h0M494.5 197.2h0M502.9 183h0M508.4 188.3h0M492.9 193.7h0M472.2 190.1h0M477.3 195.8h0M508.9 190.3h0M492.9 194.8h0M512.2 184.6h0M474.6 194.4h0M494.3 197h0M512 189.7h0M487.3 190.1h0M488 195.1h0M499.6 191.2h0M491.5 193.6h0M494.8 197.6h0M490.3 188.9h0M488.3 195.5h0M480.3 194.4h0M494.4 197.8h0M498.4 197.9h0M502.7 188.5h0M490.1 188.5h0M486.3 191.4h0M465.6 186.1h0M503.5 190.7h0M494.8 197.9h0M473.1 194.1h0M492.7 195.2h0M473 193.5h0M494.9 197.7h0M486.9 188.4h0M491.7 195.6h0M491.2 192.3h0M498.1 195.8h0M497.6 194.1h0M488.5 196.9h0M488.1 186.4h0M506.7 194.3h0M477.7 186.1h0M503.5 192.9h0M495.7 197.2h0M503 186.8h0M497 195.5h0M494.6 197.2h0M500.5 188h0M509.8 195.6h0M485.8 186.6h0M480.2 186.1h0M474.7 189.1h0M510 190.5h0M493 195.4h0M499.5 190.2h0M477.8 192.6h0M517.1 190.8h0M478.5 196h0M480.2 183.3h0M484.1 189.2h0M491.5 196.9h0M472.8 186.8h0M486.5 193.6h0M498.7 195.6h0M493.6 197.1h0M478.2 195.6h0M500.4 189.5h0M473.3 185.4h0M505.3 190.7h0M499.4 195.6h0M499.3 198h0M487.1 191h0M498.3 194.5h0M496.2 197h0M490.2 192.6h0M493.9 196.8h0M492 197.2h0M504.2 190.4h0M483.3 187.5h0M508.4 193.1h0M487.1 186.6h0M488.7 195.4h0M477 185.4h0M482.9 189.5h0M528.7 184.3h0M474.5 190.8h0M493.2 197.7h0M514 193.6h0M511.4 191.2h0M506.1 183.9h0M501 194.2h0M479.7 192.2h0M501.4 187.5h0M497.3 196.9h0M532.8 183.8h0M497.2 195.2h0M461.4 189.2h0M505.5 190.5h0M493.4 194.9h0M492.8 196.6h0M492.8 197.8h0M490.3 197.2h0M502.9 184.1h0M464.1 187h0M514.8 189.1h0M507.8 185.9h0M483.6 194.8h0M482.2 195h0M507.7 193h0M502.2 184.9h0M516.8 193.6h0M502 196.5h0M503.6 188.8h0M490.8 193h0M485.1 195.5h0M502.6 187.9h0M482.6 185.3h0M508.3 196h0M484.1 183.7h0M501 191h0M500.1 197.9h0M509.3 189.6h0M501.8 191.4h0M498.3 194.9h0M499.3 195.6h0M512.5 186.7h0M519.6 189.1h0M503.5 195.1h0M490.4 197.2h0M513.5 183.9h0M497.7 197.8h0M508.8 190.5h0M503.6 195.1h0M493.1 195.9h0M490.4 196h0M489.4 191.2h0M495.4 197.9h0M498.4 192.7h0M504.3 194.5h0M470.4 190.6h0M480.2 188h0M484.3 189.3h0M496.2 198h0M505.1 196.7h0M490.2 189.5h0M492.4 192.9h0M516.4 187.4h0M523 193.1h0M485.7 193h0M503.7 196.7h0M495.3 198.1h0M497.7 195.8h0M498.7 192h0M525.5 187.4h0M499.2 192.2h0M483.3 186h0M482 192h0M512.9 193.8h0M489.4 189.9h0M498.4 196.5h0M443.5 186.9h0M446.1 188.1h0M450.2 188.7h0M531.5 192.2h0M534.8 187.5h0M536.9 186.3h0" stroke="#000" stroke-width="1.2" stroke-linecap="round" fill="none"/>
<polygon points="471.01,182.73 487.14,182.73 485.46,175.59 482.43,172.02 477.73,174.4 473.7,179.16" fill="#1a9a6c" stroke="none" stroke-width="0"/>
<polygon points="503.6,182.73 514.02,182.73 511.33,179.16 508.64,174.4 505.95,174.4" fill="#f4533a" stroke="none" stroke-width="0"/>
<path d="M472.2 174.8h0M466.1 149h0M470.8 173.4h0M475.6 180.1h0M461.8 169.7h0M482 181.4h0M465.3 181.5h0M481.8 167.3h0M440.7 130h0M468.2 168.8h0M486.6 180.5h0M483.6 172.9h0M482.9 180h0M477.9 182.3h0M461.7 175.1h0M468.8 173.1h0M468.2 173.7h0M480.3 174.7h0M437.8 125.6h0M461.3 158.7h0M482.4 177.8h0M485.4 178.3h0M473.2 163.7h0M471.7 158.2h0M449.6 141.2h0M484.6 182.7h0M466.8 151.2h0M462 131.3h0M472.2 181.7h0M476.4 163h0M481.3 181.5h0M452.5 139.2h0M483.2 181.1h0M486.5 181.3h0M477.9 161.9h0M474.8 172h0M467.8 180h0M471.4 180.9h0M478.7 181.1h0M482.2 179.6h0M449.7 136.4h0M460.9 178h0M479 179.6h0M463.3 157.5h0M457.6 181.3h0M482.4 179.6h0M475 163.3h0M485.3 178.1h0M473.7 181.5h0M472.3 179.1h0M476.2 176.6h0M462.8 140.9h0M459.4 171.5h0M484.7 180.1h0M454.4 151.4h0M483.7 179h0M454 165.1h0M458.8 179.9h0M463.6 154.7h0M484 175.6h0M459 182.2h0M468.5 179.2h0M463.8 178.8h0M478.6 170.9h0M468.3 180.2h0M483.9 181.8h0M460.2 172h0M478.7 170.3h0M473.3 150.1h0M483.2 182.5h0M484.3 175h0M479.9 180.2h0M482.2 171.6h0M460.3 176.8h0M453.5 131.2h0M468.7 167.3h0M486.6 180.8h0M461.4 182.5h0M453.7 166.9h0M472.2 182.4h0M465.8 174.1h0M455.8 177.7h0M475 181.7h0M455.8 165.2h0M463.7 165.2h0M454.1 162.1h0M468.5 177.1h0M452.6 152.5h0M464 175.7h0M465.4 156.7h0M475.9 169.9h0M469.3 171.3h0M471.8 181.6h0M442.8 125.6h0M474.3 165.7h0M468.1 165.3h0M461.9 175.1h0M467.6 181.6h0M473.4 182.3h0M481.2 174.1h0M471.5 167h0M456.7 170.3h0M486.1 178.9h0M469.1 178h0M484.3 179.8h0M460.6 151.8h0M459.6 175.1h0M469.4 177.5h0M478 179.8h0M453.8 161.3h0M470.6 154.9h0M478.1 171.3h0M476.3 180.8h0M455.8 159h0M454.1 166.5h0M483.9 178.5h0M480.4 174.9h0M478.4 179.6h0M472.6 169.9h0M462.7 177.8h0M459.9 130.1h0M486.9 181.7h0M477.8 155.7h0M468.9 166.6h0M464.7 177.9h0M485.9 182.5h0M484.6 174.8h0M475.9 159.6h0M486.5 180.7h0M474 169.7h0M467.1 169.7h0M451.9 161.2h0M479.5 167.6h0M482.3 174.3h0M477.7 182.6h0M479.5 166.3h0M479.9 178.6h0M470.8 167.1h0M463.4 170.3h0M464.1 176.2h0M475.9 151.7h0M456.8 147.4h0M477.7 180.9h0M457 169.9h0M472.5 176.5h0M456.5 155h0M464.8 144.9h0M479.9 168.9h0M459.5 166h0M464.6 169.3h0M460.8 179.6h0M440.5 131.2h0M462.9 172.7h0M459.7 177.7h0M472.4 157.4h0M478.3 181.6h0M463.7 172.3h0M484.3 174h0M479.4 161.1h0M477.9 161.7h0M464.7 177.4h0M485.1 180.7h0M465.7 173.2h0M462 158.7h0M463.8 144.6h0M473.1 143.7h0M474.9 179.5h0M467.3 178.2h0M471.5 169.4h0M466.4 158.4h0M478.7 177.8h0M453.4 158.3h0M462.9 179.7h0M460.3 137.5h0M480.9 171.6h0M473.3 172.7h0M483.1 170.6h0M460.4 137.1h0M463.7 176h0M473.4 171.9h0M481.6 167.4h0M476 172.6h0M446.5 141.6h0M476.3 178.6h0M478.3 181h0M454.2 160.6h0M479.2 174.3h0M472 179.9h0M474.2 148.8h0M480.4 163h0M483.2 179.9h0M476.7 167.5h0M470.9 177h0M468.3 181.3h0M476 181h0M483.5 179h0M475.4 172.8h0M477.4 176.6h0M482.1 172.9h0M471.4 179.7h0M471.3 169.4h0M464.4 157.8h0M475.2 157.3h0M459.5 165.1h0M471.5 152.2h0M459.2 177.8h0M456.5 179.5h0M476 154.1h0M467.7 179.1h0M485.2 178.8h0M471.1 159.4h0M479 162.3h0M468.1 176h0M484.7 182.5h0M456.2 167.7h0M470.5 137.5h0M464.5 173.5h0M467.3 173.6h0M486 180h0M486.7 181.3h0M472.7 172.2h0M481.9 171.7h0M483.8 180.1h0M449.6 158.7h0M474.6 148.5h0M459.4 181.9h0M464.6 174.6h0M476.1 177.5h0M475.7 173.3h0M483.2 170.7h0M458.7 166.9h0M477.4 180.1h0M473.6 165.1h0M484.5 179.9h0M484.1 173.3h0M455.8 153.5h0M458 166.8h0M475.2 169.7h0M472.6 170.7h0M447.3 129.6h0M460.1 178.8h0M460.7 164.9h0M472 160.7h0M452.4 153h0M461.9 167.2h0M473.1 163.8h0M481 165.9h0M476 177.3h0M481.1 182.6h0M468.1 169.4h0M458.8 179.3h0M476.6 168.4h0M469.7 168.6h0M476.7 172.8h0M452.1 125.6h0M462.1 166.9h0M469.4 131.5h0M464.1 170.2h0M478.5 178.8h0M484.7 182.1h0M484.4 176.6h0M460.4 178.9h0M473 172.3h0M459 138h0M452.2 125.6h0M479.2 161h0M463.5 170.8h0M460.4 182.1h0M477 180.4h0M476.2 180.3h0M482.7 170.4h0M466 144.7h0M470.2 172.9h0M480.8 176.8h0M470 168.8h0M467.8 178.4h0M485.8 178.1h0M485.9 179.1h0M467.1 180.5h0M459.8 176.3h0M480.8 164.7h0M440 125.6h0M461.4 181.7h0M475 175.4h0M467.3 135.4h0M456.9 173h0M472 165.9h0M447.7 132.3h0M482.1 170.6h0M473.8 169.9h0M486.1 179.7h0M482.7 172.9h0M468.5 175.1h0M480.7 174.8h0M475.3 171.3h0M469 163h0M439.7 125.6h0M477.9 165.4h0M461.7 181.1h0M465.7 162.7h0M481.2 176.9h0M469.5 167.6h0M468.3 171h0M478.6 164.4h0M457.2 179h0M451.5 150.4h0M486.8 182.2h0M477.7 178.6h0M482 169.9h0M483.3 172.5h0M470.4 181.5h0M468.8 172.3h0M475.4 176.6h0M480.4 179.6h0M458.2 164.9h0M485.9 181.7h0M465.1 161h0M477.8 163.6h0M481 175.5h0M473.2 161h0M453.2 168.9h0M473.5 177.6h0M454.8 164.8h0M478.2 175.4h0M462.5 181.4h0M486.4 181.7h0M473.6 171.9h0M477.3 167.6h0M480 163.2h0M470.3 179.6h0M482.1 181.6h0M464.3 165.8h0M484.3 178.4h0M466.9 176.9h0M484.2 176.8h0M469 166.6h0M448.7 149.9h0M467.6 150.7h0M475 161.5h0M478.2 177.7h0M449.7 147h0M479.7 179h0M478.8 176.8h0M477.9 176.1h0M473.8 179.9h0M468.3 161.9h0M466.6 159h0M466.8 180.2h0M473.3 154.9h0M476.3 182.4h0M471.1 172.4h0M456.2 138.3h0M479.5 161.4h0M462.9 172.4h0M486.4 181.6h0M455.9 165.2h0M472 181.6h0M467.5 180.7h0M479 169h0M466.3 179.5h0M464.1 173.1h0M479.3 176.2h0M455.2 137.6h0M472.6 173.8h0M463.8 166h0M468.3 150.5h0M463.2 159.8h0M457 157.6h0M454.2 159.2h0M457.6 141.3h0M466.2 173h0M471.9 161.5h0M483.3 175.6h0M451.8 165h0M483.3 176.6h0M478.1 179.7h0M457.3 178.2h0M482.1 181.9h0M471.3 181.1h0M478.3 163.1h0M477.9 181.9h0M457.5 171.2h0M486.2 182.2h0M483.5 180.1h0M468.1 179.2h0M480.2 170.9h0M482.1 180.1h0M466.9 180.3h0M473.6 177.8h0M469.8 160.5h0M461.1 178.8h0M470.2 150.6h0M455.8 172.4h0M481.3 174.1h0M459.7 182.1h0M472.9 161.6h0M473 172.9h0M456.5 178.5h0M479.1 168.7h0M477.7 182.6h0M464.1 176.6h0M467.6 166.4h0M484.8 180.5h0M481.7 177.6h0M467.1 156.1h0M453.2 169.5h0M474.4 178.7h0M466.5 180.6h0M465.2 182.7h0M456.6 158.2h0M482.9 181.6h0M480.8 166.2h0M474.9 174.2h0M459.8 142h0M473.5 157.2h0M472.3 162.3h0M475.3 150.2h0M476.6 159.8h0M472.5 172.5h0M464 180.5h0M480.6 177.8h0M482.1 181.7h0M466.5 174.5h0M468.4 176.9h0M479.6 181.3h0M456.2 174.6h0M463.5 159.6h0M480.5 182.6h0M478.3 166.5h0M474.4 171.9h0M457.9 182.6h0M477.3 161.7h0M478.4 170.2h0M473.5 176.6h0M480 178.1h0M468.9 176.2h0M483.4 178.9h0M475.8 165.5h0M461.5 144.8h0M475.9 165.9h0M478.6 159.8h0M485.9 180.7h0M464.5 167.9h0M478.9 180.1h0M465.5 159h0M483.8 181.5h0M485.4 180.5h0M484.5 175.9h0M467.5 149.6h0M468.6 173.4h0M458.5 163.7h0M479.5 176.3h0M485 175.8h0M467.6 176h0M448.1 130.2h0M468.3 168.6h0M481.7 182.5h0M469.9 177.2h0M480 181.3h0M463.3 173.4h0M465.2 159.9h0M466.6 180.5h0M464.6 152.2h0M474.9 177h0M468.8 180.7h0M456.6 126.1h0M458.9 166.3h0M459 179.9h0M480.3 169.8h0M483.5 181.6h0M466.1 171.5h0M458.9 177.5h0M476 176.9h0M458.1 181h0M461.1 180.8h0M471.3 172.5h0M479.6 172h0M446.9 151.3h0M465.7 160.5h0M464.5 181h0M460.5 178.3h0M473.2 179.1h0M476.9 159.5h0M483.2 172.3h0M485 182.3h0M440.3 125.9h0M477.4 168.7h0M463.4 168.2h0M471.7 176.4h0M479.9 161.4h0M476.9 179.8h0M479.6 180.7h0M481.4 171.7h0M480.1 173.1h0M477.9 171.7h0M482.5 169.3h0M480.7 168.2h0M458.9 140.8h0M476.7 174.4h0M465.9 169.9h0M461.5 164.2h0M454.8 174h0M455.5 158.9h0M476.5 175.8h0M457.9 171.8h0M472.7 173h0M459.2 175.3h0M485.3 177.7h0M456 165.8h0M467.6 165.5h0M476.1 164.5h0M482.8 170.9h0M477.9 181h0M476.8 173.6h0M469.9 182h0M480.6 173h0M478.4 177.9h0M485.7 179.2h0M448 151h0M458.3 168.4h0M463.4 175.6h0M467 179.4h0M458 171.8h0M465.9 181.4h0M475.1 181h0M473.7 143.3h0M481.3 179.1h0M485.2 177.6h0M455.1 153.2h0M478.8 176.1h0M483.1 171.2h0M461.9 182.3h0M475.3 177.9h0M446.1 147.2h0M481.7 174.4h0M459.4 178.1h0M474.5 153h0M472.8 158.9h0M482.4 174.4h0M448.1 155h0M471.4 179.8h0M461.8 179.9h0M486.2 182.1h0M476.3 165.8h0M452.7 152.5h0M480.3 166.4h0M454.9 167.1h0M484.1 175h0M481.2 179.4h0M479.2 166.5h0M483.1 180.1h0M461.4 168.4h0M469.2 176.6h0M464 154.5h0M481.3 179.3h0M459.2 148.5h0M470.7 178.5h0M457.9 181.5h0M473.3 175.1h0M483.7 172.8h0M478.7 170.7h0M464.6 178.9h0M482.5 181.5h0M477.4 164.3h0M473.8 178.4h0M461.1 180h0M467.3 125.6h0M465.2 174.6h0M458.5 176.4h0M482 173.7h0M468.3 172.1h0M469.5 176.9h0M469.4 162.7h0M461 173.5h0M471 167.6h0M471.4 143.1h0M478.5 162.9h0M479.8 170.5h0M464.5 175.1h0M459.4 162.5h0M476 179.2h0M473.1 179.5h0M484.1 173.7h0M465.2 170.8h0M459.2 171.6h0M484.8 180.1h0M476.9 182.5h0M476.1 175.3h0M464.7 178.7h0M461.3 181.7h0M471.6 171.7h0M476.8 162.2h0M481.6 180.7h0M482 182.2h0M471.6 170h0M472.6 178.7h0M464.8 181.5h0M482.8 180.3h0M469.5 180.5h0M458.5 159.5h0M479.3 181.9h0M482.4 176.8h0M471.1 136.6h0M464.5 173.9h0M466.2 126.7h0M465.5 174.8h0M483.8 182.2h0M475.8 153.8h0M480.3 176.2h0M484.3 175.5h0M457.6 182.3h0M462.1 163.9h0M482.5 179.3h0M480.2 172.2h0M457.7 174.6h0M479.5 176.8h0M455 130.7h0M479.6 182.2h0M482.2 169h0M468.2 177.2h0M464.7 156.6h0M468.1 154.3h0M462 176.2h0M464.6 176.4h0M480.2 179.6h0M474.4 180.1h0M483.9 180.4h0M476.8 179.6h0M476.8 177.9h0M450.7 125.6h0M475.6 156.7h0M484.7 176.4h0M475.5 167.3h0M485.9 178.5h0M482.5 180.1h0M458.6 176.2h0M477.6 166.3h0M483.6 176.9h0M468.4 146.6h0M462.4 163.7h0M476.5 151.6h0M478.6 177.6h0M462.3 181.6h0M465.4 177.6h0M483.7 173.1h0M481.7 176.2h0M485.5 182.2h0M483.2 170.9h0M477.5 177.8h0M482.4 172.5h0M477.9 166.7h0M465.3 165.8h0M484 180.6h0M468 178.4h0M477.9 175.9h0M475 156.4h0M479.8 178.2h0M486.1 179.5h0M472.4 182.4h0M461.9 171.8h0M465.6 134.1h0M456 168.2h0M469.2 179.5h0M454.5 168.4h0M474.8 156.2h0M482.1 169.6h0M477.6 175.4h0M480.1 181.9h0M475.2 177.5h0M484.1 178.4h0M475.3 176h0M470.4 180.3h0M485.4 179.1h0M477.3 177.3h0M473.4 180.6h0M469.6 166.9h0M481.8 167h0M478.6 176.2h0M479.5 181.9h0M476.8 182h0M473.8 171.2h0M481.9 177.6h0M481.2 182.4h0M464.6 153.6h0M469.8 178.8h0M476.9 180h0M455.2 170.2h0M472.3 176.8h0M454.1 145.4h0M468.3 169.8h0M477 175.8h0M463.4 178.5h0M470.7 155h0M476.2 151.3h0M476 180.8h0M479.3 177.9h0M468.5 133.4h0M483.2 179.9h0M478.9 167.8h0M475.5 182.7h0M481.7 176.2h0M468.7 173.8h0M469.1 172.3h0M461 172h0M465.8 137.3h0M460.6 177.2h0M467.6 177.8h0M465 167.2h0M449.9 139.2h0M472 180.5h0M471.7 173.9h0M480.8 176.7h0M469.5 164.6h0M482.5 179.2h0M483.4 177.6h0M482.8 173.3h0M486.6 181.9h0M469.3 181.3h0M477.8 181.2h0M470.7 163.4h0M462.5 180.4h0M477.8 156h0M475.3 178.9h0M472.8 161.9h0M477.9 166.3h0M476.1 166.3h0M465.8 177.4h0M456.4 158.5h0M475.5 171.8h0M467.1 166.7h0M457.9 159.5h0M479.9 181h0M479.1 168.2h0M486.5 180.1h0M456.1 171.2h0M469.9 136.6h0M474 167.5h0M475.4 169.7h0M445.7 147.3h0M469.2 182.1h0M486.6 181.1h0M467.2 178.3h0M466.2 125.6h0M485.5 177.5h0M473.8 172.5h0M480.2 176.6h0M457.1 161.6h0M478.6 178.4h0M463 170.1h0M462 130.9h0M470 167.2h0M478.4 161.7h0M485.5 180.2h0M471.3 147.2h0M483.2 174h0M485.6 177.6h0M482 171.8h0M478.7 169.9h0M476.3 179.4h0M481.4 176.8h0" stroke="#1a9a6c" stroke-width="1.5" stroke-linecap="round" fill="none"/>
<path d="M503.4 182.2h0M510.1 160.2h0M504 181.9h0M535.5 176h0M527 180.4h0M508.6 176h0M510.1 166.1h0M511.4 182.1h0M515.2 171.9h0M531.8 179.4h0M533.1 162.5h0M524.8 176.8h0M506.8 169.7h0M503.8 182.5h0M503.6 181.5h0M520.4 178.2h0M510.7 179h0M504.1 182.6h0M510.9 150.4h0M523.5 175.2h0M520 166.8h0M523.1 177.6h0M521.5 164.9h0M513.6 139.6h0M512.9 152.4h0M507.2 170.4h0M509 158.4h0M506.2 174h0M507.3 177.8h0M523.5 171.9h0M515.1 178.1h0M505.8 178.3h0M510.5 158.9h0M505.9 181.7h0M507.2 169h0M513.1 169h0M506.5 171.2h0M503.8 181.6h0M508.5 178.4h0M509.7 182.6h0M506.6 177.5h0M532.2 174.9h0M527.9 180.4h0M520.5 178.8h0M535.7 181.6h0M533.2 177h0M507.7 180.2h0M506.7 170.3h0M516.7 179.5h0M511.8 152.9h0M506.5 180.7h0M514.3 136.7h0M508.5 172.5h0M506.5 172.3h0M527.8 173h0M516.3 163.1h0M512.8 175.6h0M525.2 181.5h0M510.4 170.9h0M509.5 171.7h0M505.4 177.8h0M513.3 173.4h0M505 175.4h0M509.9 172.7h0M514 173.6h0M509.9 155.6h0M535.3 176.3h0M508.2 169.2h0M533.9 169.2h0M526.9 177.5h0M535.8 181.4h0M505.8 175.9h0M516.9 164.2h0M524.1 154.7h0M512.5 166.6h0M514.6 135.1h0M519.3 162.1h0M523.3 179.8h0M511.7 176.6h0M508.6 162.4h0M515.3 179.4h0M511.5 182h0M511.9 167.1h0M522.9 179.9h0M521.6 163.2h0M529.1 174.7h0M507.4 166.6h0M504.5 178.1h0M506 182.4h0M524.5 162.5h0M504.1 181.5h0M525.8 177.8h0M528.7 173h0M535.8 182h0M514.6 180.4h0M519.9 161.6h0M516.2 180.5h0M504.6 177h0M506.3 178.5h0M507 172.7h0M517.9 173.4h0M504 180.7h0M510.7 170.8h0M503.8 181.3h0M516.8 154.1h0M505 178.3h0M520.4 135.1h0M508.9 169.2h0M507.9 179h0M514.6 181.1h0M524.1 177.1h0M509.3 177.4h0M531.5 175.6h0M518 178.4h0M512.7 180h0M527.3 179.3h0M526.2 179.3h0M510.3 171.3h0M512.1 155.3h0M514.8 169h0M504.7 176.7h0M506.1 177.2h0M532.6 176.8h0M517.5 179.2h0M506.9 171.5h0M504.8 177.4h0M509.6 159.9h0M507 177.2h0M525.4 165.4h0M512.4 173.7h0M529 181.7h0M506.4 181.8h0M518.9 178h0M508.2 171.5h0M530.1 159.6h0M514.5 182.5h0M507.5 176.3h0M506.7 176.4h0M514.6 171.5h0M529.8 147.1h0M516.1 135.1h0M516.9 164.9h0M534.6 170.5h0M508.7 182h0M515.9 177.5h0M535.6 180.2h0M506.8 180.4h0M507.2 181.2h0M506.6 169h0M515.3 180.9h0M520.1 172.9h0M523.6 179.8h0M521.8 169.5h0M508.9 181.4h0M526.6 182.6h0M526.9 153.5h0M506 182.5h0M511.8 175h0M522.3 181.5h0M510.4 179.1h0M512.1 181.4h0M503.7 181.3h0M506.6 175.5h0M507.8 167.5h0M504.6 177.3h0M508.7 180.2h0M509.9 174.5h0M507.9 163.5h0M508.1 163.5h0M515.8 147.2h0M514.2 177.5h0M531.3 162.6h0M504.5 177.3h0M524 181h0M518.9 169.3h0M510.9 181h0M503.5 182.4h0M533.7 179.1h0M525.5 172.3h0M507.5 182.3h0M504.8 181.9h0M530.6 181.5h0M510 178.7h0M527.7 172h0M515.8 153.1h0M529.1 175.7h0M506.2 177.7h0M507.6 169.1h0M508.5 178.1h0M507.5 176.2h0M509.2 177h0M525.1 182.2h0M510.6 182.1h0M508.5 174.7h0M504 180.2h0M506.4 178h0M505.8 176h0M511.6 168.7h0M507.2 182.6h0M511.4 148.4h0M532.6 173.6h0M513.6 178.1h0M506.1 178.1h0M513.9 173.2h0M510.2 178.9h0M520.5 175.4h0M503.5 182.2h0M505.4 179.8h0M510.6 166.7h0M510.9 162.8h0M516.8 179.3h0M535.5 181.8h0M509.3 164.7h0M524 178.9h0M516.4 167h0M520.9 182.1h0M514.2 182.2h0M530.5 174.6h0M505.7 172.4h0M521.1 155.2h0M505.3 174h0M509.9 169.2h0M533.8 171.2h0M509.3 157.6h0M510.7 167.4h0M509.3 168.6h0M509 176.7h0M505.7 181.5h0M506.5 169.3h0M525 181.5h0M512.8 171.6h0M503.7 181.5h0M532.8 179h0M530.1 174.4h0M507.8 180.3h0M525.1 175h0M527.5 181.4h0M504.8 176.3h0M507.6 177h0M530.2 171.4h0M517.5 175.8h0M521.8 177.8h0M519.7 181.6h0M512.8 180.9h0M506.4 180.4h0M506.3 180.9h0M511.6 173.7h0M512.8 177.8h0M509.9 164h0M510.5 173.9h0M513.9 142.8h0M507 170.6h0M519.2 179.7h0M506.5 174.1h0M524.4 182.1h0M518.6 177.9h0M514.5 177h0M533.7 174.4h0M512.6 158.4h0M505.8 176h0M506.7 168.6h0M525.7 179h0M517.5 182.4h0M512.5 174.2h0M504.6 178.6h0M521.6 152.3h0M507.3 166.2h0M507.7 167.2h0M511.1 180.5h0M505.7 173.2h0M514.3 168.1h0M528.8 159.5h0M508.6 170.9h0M520.1 152.2h0M526.4 179.3h0M507.5 169.6h0M504 179.8h0M506.2 174.9h0M505.3 179.2h0M509.4 181.3h0M505.6 179.5h0M510.4 179.4h0M508.5 161.8h0M525.5 162.9h0M512.4 173.2h0M512.7 169.3h0M529.7 171.8h0M507.9 167.6h0M531.9 182.2h0M522.2 178.2h0M508.8 180h0M519.2 178h0M514.4 153.6h0M507.7 174.3h0M532.6 180.1h0M532.1 181.5h0M505.9 171.9h0M508.9 159.3h0M505.4 174.3h0M514.9 137.3h0M508.2 161.9h0M505.9 171.6h0M512.1 182.4h0M519.8 141.6h0M522.2 163.2h0M505.1 175.3h0M505.6 175.2h0M507.6 175.2h0M505.5 175.7h0M509.7 170.4h0M504.9 176h0M512.5 176h0M516.6 146.4h0M505.4 181.3h0M517.9 178.6h0M530.8 154.5h0M528.1 152.4h0M529.7 162.9h0M509.4 182.5h0M517.5 173.7h0M514.7 173.1h0M509.8 155.4h0M532.7 175.3h0M503.5 182.4h0M530.9 162.2h0M503.3 182.5h0M518.3 164.8h0M513.3 175.3h0M523.3 168.4h0M503.3 182.7h0M532.6 166.7h0M510.6 164.6h0M506.8 178.6h0M521.2 182.6h0M513 179.7h0M507.3 175.2h0M510.3 171.4h0M527.9 180h0M504.1 180.8h0M509.5 179.8h0M508.9 167.2h0M515.7 180h0M510.8 179.7h0M527.6 179.8h0M504.7 180.7h0M506.4 179.1h0M517.3 169.6h0M513.2 166.9h0M520.9 181.9h0M504.8 179.9h0M535.2 177.3h0M507 178h0M532.2 158.3h0M504.7 177.8h0M522.1 167h0M522.4 178.6h0M506 177.9h0M520 173.6h0M523.9 176.2h0M509.6 182.6h0M504.5 177.9h0M509.4 157.9h0M527.7 180.4h0M528.1 150h0M531.1 178.5h0M518.3 181.2h0M510.7 153.3h0M516.6 181.3h0M519.9 161.1h0M513.6 152.6h0M504.6 178h0M531.8 179.5h0M504 182h0M504.3 178.4h0M504.7 179h0M510.7 181.4h0M512.9 174.9h0M512.7 168.2h0M510.4 153h0M503.9 180.2h0M520.8 179h0M513.9 156.6h0M506 181h0M506.9 174.2h0M532.4 166.8h0M514 176.5h0M511.9 163.8h0M532.3 180.6h0M512.4 144.2h0M509.8 168.2h0M503.8 182.2h0M519.5 180.8h0M503.8 180.3h0M522.9 180.2h0M516 175.7h0M505.3 176.4h0M505.2 182.6h0M504.7 182.3h0M508.3 173h0M514.8 176.3h0M506.9 178.9h0M515.2 161h0M511.7 177.3h0M507 176.5h0M509.9 157.9h0M525.1 154.9h0M508.7 161.1h0M534.5 175.5h0M504.5 179.3h0M507.2 169.7h0M505.7 173.9h0M511.4 152.9h0M517 181.7h0M512.2 178.4h0M530.3 175.8h0M508 175.4h0M509.5 182.7h0M512.5 179.6h0M510.3 172.6h0M509.7 181.8h0" stroke="#f4533a" stroke-width="1.45" stroke-linecap="round" fill="none"/>
<circle cx="445.2" cy="19.9" r="0.75" fill="#1a9a6c" stroke="none" stroke-width="0"/>
<circle cx="454.6" cy="17" r="0.75" fill="#1a9a6c" stroke="none" stroke-width="0"/>
<circle cx="446.9" cy="56.9" r="0.75" fill="#1a9a6c" stroke="none" stroke-width="0"/>
<circle cx="447.9" cy="71.3" r="0.75" fill="#1a9a6c" stroke="none" stroke-width="0"/>
<circle cx="451" cy="70" r="0.75" fill="#1a9a6c" stroke="none" stroke-width="0"/>
<circle cx="452" cy="85.6" r="0.75" fill="#1a9a6c" stroke="none" stroke-width="0"/>
<circle cx="453.6" cy="85.2" r="0.75" fill="#1a9a6c" stroke="none" stroke-width="0"/>
<circle cx="455.5" cy="96.7" r="0.75" fill="#1a9a6c" stroke="none" stroke-width="0"/>
<circle cx="460.6" cy="95" r="0.75" fill="#1a9a6c" stroke="none" stroke-width="0"/>
<circle cx="455" cy="96.9" r="0.75" fill="#1a9a6c" stroke="none" stroke-width="0"/>
<circle cx="460.4" cy="94.4" r="0.75" fill="#1a9a6c" stroke="none" stroke-width="0"/>
<circle cx="450.6" cy="101.8" r="0.75" fill="#1a9a6c" stroke="none" stroke-width="0"/>
<circle cx="456.7" cy="101" r="0.75" fill="#1a9a6c" stroke="none" stroke-width="0"/>
<circle cx="434.1" cy="120.7" r="0.75" fill="#1a9a6c" stroke="none" stroke-width="0"/>
<circle cx="435.8" cy="128.8" r="0.75" fill="#1a9a6c" stroke="none" stroke-width="0"/>
<circle cx="440" cy="129.3" r="0.75" fill="#1a9a6c" stroke="none" stroke-width="0"/>
<circle cx="443.2" cy="131.8" r="0.75" fill="#1a9a6c" stroke="none" stroke-width="0"/>
<circle cx="554.9" cy="51.6" r="0.75" fill="#f4533a" stroke="none" stroke-width="0"/>
<circle cx="543.2" cy="72.7" r="0.75" fill="#f4533a" stroke="none" stroke-width="0"/>
<circle cx="533.2" cy="98.1" r="0.75" fill="#f4533a" stroke="none" stroke-width="0"/>
<circle cx="552.9" cy="118.3" r="0.75" fill="#f4533a" stroke="none" stroke-width="0"/>
<circle cx="556.6" cy="121.2" r="0.75" fill="#f4533a" stroke="none" stroke-width="0"/>
<circle cx="517.7" cy="129.3" r="0.75" fill="#f4533a" stroke="none" stroke-width="0"/>
<circle cx="519.2" cy="129" r="0.75" fill="#f4533a" stroke="none" stroke-width="0"/>
<circle cx="533.9" cy="126.9" r="0.75" fill="#f4533a" stroke="none" stroke-width="0"/>
<circle cx="551.6" cy="139.2" r="0.75" fill="#f4533a" stroke="none" stroke-width="0"/>
<circle cx="538.1" cy="138.7" r="0.75" fill="#f4533a" stroke="none" stroke-width="0"/>
<circle cx="524.1" cy="131.8" r="0.75" fill="#f4533a" stroke="none" stroke-width="0"/>
<circle cx="526.6" cy="114.6" r="0.75" fill="#f4533a" stroke="none" stroke-width="0"/>
<circle cx="561" cy="182.2" r="0.75" fill="#f4533a" stroke="none" stroke-width="0"/>
<rect x="430.5" y="13.5" width="158" height="189.3" fill="none" stroke="#666" stroke-width="0.8"/>
<line x1="430.5" y1="13.5" x2="430.5" y2="202.8" stroke="#222" stroke-width="1"/>
<line x1="430.5" y1="202.8" x2="588.5" y2="202.8" stroke="#222" stroke-width="1"/>
<line x1="428.3" y1="198.2" x2="430.5" y2="198.2" stroke="#333" stroke-width="0.6"/>
<text x="427.6" y="198.2" font-size="4.5" text-anchor="end" font-family="'Liberation Sans', sans-serif" font-weight="normal" fill="#333" dominant-baseline="central">0</text>
<line x1="428.3" y1="174.4" x2="430.5" y2="174.4" stroke="#333" stroke-width="0.6"/>
<text x="427.6" y="174.4" font-size="4.5" text-anchor="end" font-family="'Liberation Sans', sans-serif" font-weight="normal" fill="#333" dominant-baseline="central">2</text>
<line x1="428.3" y1="150.6" x2="430.5" y2="150.6" stroke="#333" stroke-width="0.6"/>
<text x="427.6" y="150.6" font-size="4.5" text-anchor="end" font-family="'Liberation Sans', sans-serif" font-weight="normal" fill="#333" dominant-baseline="central">4</text>
<line x1="428.3" y1="126.8" x2="430.5" y2="126.8" stroke="#333" stroke-width="0.6"/>
<text x="427.6" y="126.8" font-size="4.5" text-anchor="end" font-family="'Liberation Sans', sans-serif" font-weight="normal" fill="#333" dominant-baseline="central">6</text>
<line x1="428.3" y1="103" x2="430.5" y2="103" stroke="#333" stroke-width="0.6"/>
<text x="427.6" y="103" font-size="4.5" text-anchor="end" font-family="'Liberation Sans', sans-serif" font-weight="normal" fill="#333" dominant-baseline="central">8</text>
<line x1="428.3" y1="79.2" x2="430.5" y2="79.2" stroke="#333" stroke-width="0.6"/>
<text x="427.6" y="79.2" font-size="4.5" text-anchor="end" font-family="'Liberation Sans', sans-serif" font-weight="normal" fill="#333" dominant-baseline="central">10</text>
<line x1="428.3" y1="55.4" x2="430.5" y2="55.4" stroke="#333" stroke-width="0.6"/>
<text x="427.6" y="55.4" font-size="4.5" text-anchor="end" font-family="'Liberation Sans', sans-serif" font-weight="normal" fill="#333" dominant-baseline="central">12</text>
<line x1="428.3" y1="31.6" x2="430.5" y2="31.6" stroke="#333" stroke-width="0.6"/>
<text x="427.6" y="31.6" font-size="4.5" text-anchor="end" font-family="'Liberation Sans', sans-serif" font-weight="normal" fill="#333" dominant-baseline="central">14</text>
<line x1="441.44" y1="202.8" x2="441.44" y2="204.8" stroke="#333" stroke-width="0.6"/>
<text x="441.44" y="207.6" font-size="4.5" text-anchor="middle" font-family="'Liberation Sans', sans-serif" font-weight="normal" fill="#333" dominant-baseline="central">−8</text>
<line x1="454.88" y1="202.8" x2="454.88" y2="204.8" stroke="#333" stroke-width="0.6"/>
<text x="454.88" y="207.6" font-size="4.5" text-anchor="middle" font-family="'Liberation Sans', sans-serif" font-weight="normal" fill="#333" dominant-baseline="central">−6</text>
<line x1="468.32" y1="202.8" x2="468.32" y2="204.8" stroke="#333" stroke-width="0.6"/>
<text x="468.32" y="207.6" font-size="4.5" text-anchor="middle" font-family="'Liberation Sans', sans-serif" font-weight="normal" fill="#333" dominant-baseline="central">−4</text>
<line x1="481.76" y1="202.8" x2="481.76" y2="204.8" stroke="#333" stroke-width="0.6"/>
<text x="481.76" y="207.6" font-size="4.5" text-anchor="middle" font-family="'Liberation Sans', sans-serif" font-weight="normal" fill="#333" dominant-baseline="central">−2</text>
<line x1="495.2" y1="202.8" x2="495.2" y2="204.8" stroke="#333" stroke-width="0.6"/>
<text x="495.2" y="207.6" font-size="4.5" text-anchor="middle" font-family="'Liberation Sans', sans-serif" font-weight="normal" fill="#333" dominant-baseline="central">0</text>
<line x1="508.64" y1="202.8" x2="508.64" y2="204.8" stroke="#333" stroke-width="0.6"/>
<text x="508.64" y="207.6" font-size="4.5" text-anchor="middle" font-family="'Liberation Sans', sans-serif" font-weight="normal" fill="#333" dominant-baseline="central">2</text>
<line x1="522.08" y1="202.8" x2="522.08" y2="204.8" stroke="#333" stroke-width="0.6"/>
<text x="522.08" y="207.6" font-size="4.5" text-anchor="middle" font-family="'Liberation Sans', sans-serif" font-weight="normal" fill="#333" dominant-baseline="central">4</text>
<line x1="535.52" y1="202.8" x2="535.52" y2="204.8" stroke="#333" stroke-width="0.6"/>
<text x="535.52" y="207.6" font-size="4.5" text-anchor="middle" font-family="'Liberation Sans', sans-serif" font-weight="normal" fill="#333" dominant-baseline="central">6</text>
<line x1="548.96" y1="202.8" x2="548.96" y2="204.8" stroke="#333" stroke-width="0.6"/>
<text x="548.96" y="207.6" font-size="4.5" text-anchor="middle" font-family="'Liberation Sans', sans-serif" font-weight="normal" fill="#333" dominant-baseline="central">8</text>
<line x1="562.4" y1="202.8" x2="562.4" y2="204.8" stroke="#333" stroke-width="0.6"/>
<text x="562.4" y="207.6" font-size="4.5" text-anchor="middle" font-family="'Liberation Sans', sans-serif" font-weight="normal" fill="#333" dominant-baseline="central">10</text>
<line x1="575.84" y1="202.8" x2="575.84" y2="204.8" stroke="#333" stroke-width="0.6"/>
<text x="575.84" y="207.6" font-size="4.5" text-anchor="middle" font-family="'Liberation Sans', sans-serif" font-weight="normal" fill="#333" dominant-baseline="central">12</text>
<text x="509.9" y="212.9" font-size="5.9" text-anchor="middle" font-family="'Liberation Serif', serif" font-weight="normal" fill="#000" dominant-baseline="central" textLength="34.61" lengthAdjust="spacingAndGlyphs">log2(FoldChange)</text>
<text x="420.1" y="103.5" font-size="5.9" text-anchor="middle" font-family="'Liberation Serif', serif" font-weight="normal" fill="#000" dominant-baseline="central" transform="rotate(-90 420.1 103.5)" textLength="28.82" lengthAdjust="spacingAndGlyphs">-log10(pvalue)</text>
<text x="592.4" y="16.4" font-size="4.6" text-anchor="start" font-family="'Liberation Serif', serif" font-weight="normal" fill="#000" dominant-baseline="central" textLength="13.99" lengthAdjust="spacingAndGlyphs">Regulated</text>
<circle cx="594.5" cy="23.2" r="2.1" fill="#128c4f" stroke="none" stroke-width="0"/>
<text x="598.6" y="23.6" font-size="5.6" text-anchor="start" font-family="'Liberation Serif', serif" font-weight="normal" fill="#000" dominant-baseline="central" textLength="29.56" lengthAdjust="spacingAndGlyphs">Down-regulated</text>
<circle cx="594.5" cy="31.1" r="2.1" fill="#f4472a" stroke="none" stroke-width="0"/>
<text x="598.6" y="31.5" font-size="5.6" text-anchor="start" font-family="'Liberation Serif', serif" font-weight="normal" fill="#000" dominant-baseline="central" textLength="24.27" lengthAdjust="spacingAndGlyphs">Up-regulated</text>
<line x1="548.5" y1="69.6" x2="518.4" y2="155" stroke="#111" stroke-width="0.95"/>
<line x1="526.6" y1="114.8" x2="514.4" y2="157" stroke="#111" stroke-width="0.95"/>
<line x1="548.2" y1="113.6" x2="512" y2="179.7" stroke="#111" stroke-width="0.95"/>
<line x1="556.2" y1="126.3" x2="529.5" y2="158.5" stroke="#111" stroke-width="0.95"/>
<line x1="559.9" y1="135.1" x2="532.2" y2="163.5" stroke="#111" stroke-width="0.95"/>
<line x1="561.7" y1="148.4" x2="529.5" y2="177" stroke="#111" stroke-width="0.95"/>
<line x1="448.1" y1="116.6" x2="453.5" y2="160.8" stroke="#111" stroke-width="0.95"/>
<line x1="462.1" y1="108.4" x2="467.8" y2="153.4" stroke="#111" stroke-width="0.95"/>
<text x="536.5" y="60" font-size="7.7" text-anchor="start" font-family="'Liberation Serif', serif" font-weight="bold" fill="#f2958c" dominant-baseline="central">TLR4</text>
<text x="505.4" y="99.8" font-size="7.7" text-anchor="start" font-family="'Liberation Serif', serif" font-weight="bold" fill="#f2958c" dominant-baseline="central">ISG15</text>
<text x="542.3" y="102.8" font-size="7.7" text-anchor="start" font-family="'Liberation Serif', serif" font-weight="bold" fill="#f2958c" dominant-baseline="central">IRF3</text>
<text x="560.2" y="121.2" font-size="7.7" text-anchor="start" font-family="'Liberation Serif', serif" font-weight="bold" fill="#f2958c" dominant-baseline="central">OAS1</text>
<text x="561" y="136" font-size="7.7" text-anchor="start" font-family="'Liberation Serif', serif" font-weight="bold" fill="#f2958c" dominant-baseline="central">IRF7</text>
<text x="564.4" y="149.7" font-size="7.7" text-anchor="start" font-family="'Liberation Serif', serif" font-weight="bold" fill="#f2958c" dominant-baseline="central">OAS2</text>
<text x="456.7" y="100.3" font-size="8.2" text-anchor="start" font-family="'Liberation Serif', serif" font-weight="bold" fill="#258a50" dominant-baseline="central">STAT3</text>
<text x="435.3" y="109.2" font-size="8.2" text-anchor="start" font-family="'Liberation Serif', serif" font-weight="bold" fill="#258a50" dominant-baseline="central">IFIT5</text>
<line x1="624.3" y1="34.8" x2="624.3" y2="169.5" stroke="#111" stroke-width="0.8"/>
<polyline points="624.3,78.3 606.5,78.3 606.5,100.9 588.5,100.9" fill="none" stroke="#111" stroke-width="0.8"/>
<text x="626.6" y="38.8" font-size="7.6" text-anchor="start" font-family="'Liberation Serif', serif" font-weight="bold" fill="#ef9a93" dominant-baseline="central">TLR4</text>
<text x="626.6" y="51.3" font-size="7.6" text-anchor="start" font-family="'Liberation Serif', serif" font-weight="bold" fill="#ef9a93" dominant-baseline="central">IRF3</text>
<text x="626.6" y="63.6" font-size="7.6" text-anchor="start" font-family="'Liberation Serif', serif" font-weight="bold" fill="#ef9a93" dominant-baseline="central">OAS1</text>
<text x="626.6" y="76.3" font-size="7.6" text-anchor="start" font-family="'Liberation Serif', serif" font-weight="bold" fill="#ef9a93" dominant-baseline="central">OAS2</text>
<text x="627.6" y="89" font-size="7.6" text-anchor="start" font-family="'Liberation Serif', serif" font-weight="bold" fill="#ef9a93" dominant-baseline="central">IRF7</text>
<text x="626" y="110.1" font-size="8.3" text-anchor="start" font-family="'Liberation Serif', serif" font-weight="bold" fill="#258a50" dominant-baseline="central">STAT3</text>
<text x="626" y="123.2" font-size="8.1" text-anchor="start" font-family="'Liberation Serif', serif" font-weight="bold" fill="#258a50" dominant-baseline="central">IFIT5</text>
<circle cx="629" cy="148.6" r="3.7" fill="#f2a29b" stroke="none" stroke-width="0"/>
<text x="634" y="147.8" font-size="9.35" text-anchor="start" font-family="'Liberation Serif', serif" font-weight="normal" fill="#000" dominant-baseline="central">positive ISG</text>
<circle cx="629" cy="163.4" r="3.7" fill="#1c7a43" stroke="none" stroke-width="0"/>
<text x="634" y="163.1" font-size="9.25" text-anchor="start" font-family="'Liberation Serif', serif" font-weight="normal" fill="#000" dominant-baseline="central">negative ISG</text>
<text x="1.6" y="232.99" font-size="11" text-anchor="start" font-family="'Liberation Serif', serif" font-weight="bold" fill="#000" dominant-baseline="central">D</text>
<line x1="99.3" y1="233.8" x2="99.3" y2="282.1" stroke="#e3e3e3" stroke-width="0.5"/>
<line x1="99.3" y1="307.2" x2="99.3" y2="355.4" stroke="#e3e3e3" stroke-width="0.5"/>
<line x1="143.2" y1="233.8" x2="143.2" y2="282.1" stroke="#e3e3e3" stroke-width="0.5"/>
<line x1="143.2" y1="307.2" x2="143.2" y2="355.4" stroke="#e3e3e3" stroke-width="0.5"/>
<line x1="187.1" y1="233.8" x2="187.1" y2="282.1" stroke="#e3e3e3" stroke-width="0.5"/>
<line x1="187.1" y1="307.2" x2="187.1" y2="355.4" stroke="#e3e3e3" stroke-width="0.5"/>
<line x1="51.5" y1="238.55" x2="221" y2="238.55" stroke="#ececec" stroke-width="0.5"/>
<line x1="51.5" y1="256.05" x2="221" y2="256.05" stroke="#ececec" stroke-width="0.5"/>
<line x1="51.5" y1="264.8" x2="221" y2="264.8" stroke="#ececec" stroke-width="0.5"/>
<line x1="51.5" y1="273.55" x2="221" y2="273.55" stroke="#ececec" stroke-width="0.5"/>
<line x1="51.5" y1="320.35" x2="221" y2="320.35" stroke="#ececec" stroke-width="0.5"/>
<line x1="51.5" y1="340.25" x2="221" y2="340.25" stroke="#ececec" stroke-width="0.5"/>
<line x1="51.5" y1="350.2" x2="221" y2="350.2" stroke="#ececec" stroke-width="0.5"/>
<line x1="51.5" y1="247.3" x2="225" y2="247.3" stroke="#bbbbbb" stroke-width="0.5" stroke-dasharray="1,0.6"/>
<rect x="55" y="282.5" width="1" height="24.3" fill="#52aa7b" stroke="none" stroke-width="0"/>
<rect x="56" y="282.5" width="4" height="24.3" fill="#a6d4b9" stroke="none" stroke-width="0"/>
<rect x="60" y="282.5" width="1" height="24.3" fill="#52aa7b" stroke="none" stroke-width="0"/>
<rect x="62" y="282.5" width="2.8" height="24.3" fill="#52aa7b" stroke="none" stroke-width="0"/>
<rect x="66" y="282.5" width="3" height="24.3" fill="#0b8445" stroke="none" stroke-width="0"/>
<rect x="76" y="282.5" width="0.8" height="24.3" fill="#52aa7b" stroke="none" stroke-width="0"/>
<rect x="79.2" y="282.5" width="0.7" height="24.3" fill="#a6d4b9" stroke="none" stroke-width="0"/>
<rect x="80.9" y="282.5" width="0.9" height="24.3" fill="#52aa7b" stroke="none" stroke-width="0"/>
<rect x="83.9" y="282.5" width="3.9" height="24.3" fill="#0b8445" stroke="none" stroke-width="0"/>
<rect x="91" y="282.5" width="3" height="24.3" fill="#0b8445" stroke="none" stroke-width="0"/>
<rect x="95.3" y="282.5" width="0.7" height="24.3" fill="#52aa7b" stroke="none" stroke-width="0"/>
<rect x="98" y="282.5" width="1.5" height="24.3" fill="#0b8445" stroke="none" stroke-width="0"/>
<rect x="99.5" y="282.5" width="1" height="24.3" fill="#52aa7b" stroke="none" stroke-width="0"/>
<rect x="100.5" y="282.5" width="1.8" height="24.3" fill="#0b8445" stroke="none" stroke-width="0"/>
<rect x="102.3" y="282.5" width="1.6" height="24.3" fill="#52aa7b" stroke="none" stroke-width="0"/>
<rect x="105.2" y="282.5" width="4.6" height="24.3" fill="#52aa7b" stroke="none" stroke-width="0"/>
<rect x="113" y="282.5" width="0.8" height="24.3" fill="#52aa7b" stroke="none" stroke-width="0"/>
<rect x="114.3" y="282.5" width="1.4" height="24.3" fill="#a6d4b9" stroke="none" stroke-width="0"/>
<rect x="119" y="282.5" width="1" height="24.3" fill="#0b8445" stroke="none" stroke-width="0"/>
<rect x="120" y="282.5" width="1.2" height="24.3" fill="#52aa7b" stroke="none" stroke-width="0"/>
<rect x="121.2" y="282.5" width="0.8" height="24.3" fill="#0b8445" stroke="none" stroke-width="0"/>
<rect x="122.8" y="282.5" width="0.8" height="24.3" fill="#0b8445" stroke="none" stroke-width="0"/>
<rect x="126" y="282.5" width="0.9" height="24.3" fill="#52aa7b" stroke="none" stroke-width="0"/>
<rect x="129.9" y="282.5" width="1.6" height="24.3" fill="#52aa7b" stroke="none" stroke-width="0"/>
<rect x="133" y="282.5" width="4.4" height="24.3" fill="#a6d4b9" stroke="none" stroke-width="0"/>
<rect x="134.5" y="282.5" width="0.8" height="24.3" fill="#52aa7b" stroke="none" stroke-width="0"/>
<rect x="139" y="282.5" width="1.2" height="24.3" fill="#0b8445" stroke="none" stroke-width="0"/>
<rect x="141" y="282.5" width="1.2" height="24.3" fill="#a6d4b9" stroke="none" stroke-width="0"/>
<rect x="142.9" y="282.5" width="1" height="24.3" fill="#0b8445" stroke="none" stroke-width="0"/>
<rect x="147.1" y="282.5" width="1" height="24.3" fill="#0b8445" stroke="none" stroke-width="0"/>
<rect x="148.1" y="282.5" width="1.4" height="24.3" fill="#a6d4b9" stroke="none" stroke-width="0"/>
<rect x="150.8" y="282.5" width="1.7" height="24.3" fill="#0b8445" stroke="none" stroke-width="0"/>
<rect x="152.5" y="282.5" width="1.5" height="24.3" fill="#52aa7b" stroke="none" stroke-width="0"/>
<rect x="154" y="282.5" width="2.7" height="24.3" fill="#0b8445" stroke="none" stroke-width="0"/>
<rect x="158" y="282.5" width="1.3" height="24.3" fill="#52aa7b" stroke="none" stroke-width="0"/>
<rect x="160.6" y="282.5" width="2" height="24.3" fill="#0b8445" stroke="none" stroke-width="0"/>
<rect x="163.2" y="282.5" width="1.4" height="24.3" fill="#a6d4b9" stroke="none" stroke-width="0"/>
<rect x="165.9" y="282.5" width="2.6" height="24.3" fill="#0b8445" stroke="none" stroke-width="0"/>
<rect x="170.5" y="282.5" width="1.3" height="24.3" fill="#0b8445" stroke="none" stroke-width="0"/>
<rect x="172.4" y="282.5" width="4.6" height="24.3" fill="#a6d4b9" stroke="none" stroke-width="0"/>
<rect x="174" y="282.5" width="1" height="24.3" fill="#52aa7b" stroke="none" stroke-width="0"/>
<rect x="180.3" y="282.5" width="2.7" height="24.3" fill="#0b8445" stroke="none" stroke-width="0"/>
<rect x="184.3" y="282.5" width="2.6" height="24.3" fill="#0b8445" stroke="none" stroke-width="0"/>
<rect x="187.6" y="282.5" width="1.3" height="24.3" fill="#52aa7b" stroke="none" stroke-width="0"/>
<rect x="190.5" y="282.5" width="0.8" height="24.3" fill="#a6d4b9" stroke="none" stroke-width="0"/>
<rect x="194.1" y="282.5" width="2.7" height="24.3" fill="#0b8445" stroke="none" stroke-width="0"/>
<rect x="198" y="282.5" width="1" height="24.3" fill="#52aa7b" stroke="none" stroke-width="0"/>
<rect x="199.6" y="282.5" width="1.1" height="24.3" fill="#0b8445" stroke="none" stroke-width="0"/>
<rect x="201.3" y="282.5" width="2" height="24.3" fill="#0b8445" stroke="none" stroke-width="0"/>
<rect x="204.6" y="282.5" width="2" height="24.3" fill="#52aa7b" stroke="none" stroke-width="0"/>
<rect x="207.9" y="282.5" width="2.6" height="24.3" fill="#0b8445" stroke="none" stroke-width="0"/>
<rect x="212.5" y="282.5" width="3.5" height="24.3" fill="#52aa7b" stroke="none" stroke-width="0"/>
<rect x="216" y="282.5" width="6.4" height="24.3" fill="#0b8445" stroke="none" stroke-width="0"/>
<polygon points="55.4,330.3 55.4,311.4 55.73,315.38 56.23,318.36 56.78,319.95 57.06,320.75 58.17,321.81 58.72,322.34 59.55,322.67 60.93,323.22 62.31,323.78 63.7,324.33 65.08,324.6 66.46,324.86 67.85,325.13 69.23,325.39 70.61,325.66 71.99,325.92 73.38,326.05 74.76,326.19 76.14,326.32 77.53,326.45 78.91,326.59 80.29,326.72 81.67,326.85 83.06,326.98 84.44,327.12 85.82,327.25 87.21,327.38 88.59,327.51 89.97,327.6 91.35,327.68 92.74,327.76 94.12,327.85 95.5,327.93 96.89,328.01 98.27,328.09 99.65,328.18 101.03,328.26 102.42,328.34 103.8,328.43 105.18,328.51 106.57,328.58 107.95,328.64 109.33,328.71 110.71,328.77 112.1,328.84 113.48,328.91 114.86,328.97 116.25,329.04 117.63,329.11 119.01,329.17 120.39,329.24 121.78,329.31 123.16,329.35 124.54,329.4 125.93,329.45 127.31,329.5 128.69,329.55 130.07,329.6 131.46,329.65 132.84,329.7 134.22,329.75 135.61,329.8 136.99,329.85 138.37,329.9 139.75,329.97 141.14,330.03 142.52,330.1 143.9,330.17 145.29,330.23 146.67,330.3 148.05,330.35 149.43,330.4 150.82,330.45 152.2,330.5 153.58,330.55 154.97,330.6 156.35,330.65 157.73,330.7 159.11,330.75 160.5,330.8 161.88,330.85 163.26,330.9 164.65,330.96 166.03,331.03 167.41,331.1 168.79,331.16 170.18,331.23 171.56,331.3 172.94,331.36 174.33,331.43 175.71,331.49 177.09,331.56 178.47,331.63 179.86,331.69 181.24,331.78 182.62,331.86 184.01,331.94 185.39,332.02 186.77,332.11 188.15,332.19 189.54,332.27 190.92,332.36 192.3,332.44 193.69,332.52 195.07,332.61 196.45,332.69 197.83,332.83 199.22,332.97 200.6,333.11 201.98,333.26 203.36,333.4 204.75,333.54 206.13,333.68 207.51,333.83 208.07,333.88 208.9,334.06 210.28,334.35 211.66,334.64 213.04,334.93 214.43,335.22 214.7,335.28 215.81,335.81 217.19,336.47 218.02,336.87 218.58,337.46 219.68,338.66 219.96,339.38 220.68,341.25 221.18,346.22 221.34,350.2 221.34,330.3" fill="#c8c8c8" stroke="#c8c8c8" stroke-width="0.4"/>
<polyline points="55.4,247.5 58,245.3 60,243.2 63,242.4 64.4,239.8 66.5,239.2 68.8,237.8 72,239.3 76.1,241 80,241.8 83.4,242.4 86.3,241.3 90.7,243.6 94,243.9 98,244.6 103.8,245.6 109.7,247.5 114,249.6 118.4,251.9 125,254.8 132.8,258.5 145.7,265.7 158.5,270.1 168.2,273.3 179.4,277 182.6,275.9 187.4,276.2 193.9,278.3 201.1,278.6 206.7,274.9 210.7,271.4 214.7,271 218.3,264.1 220.4,256.9 221.4,247.5" fill="none" stroke="#219a66" stroke-width="0.95" stroke-linejoin="round"/>
<rect x="51.5" y="233.8" width="173.5" height="121.6" fill="none" stroke="#9a9a9a" stroke-width="0.7"/>
<line x1="51.5" y1="282.1" x2="225" y2="282.1" stroke="#9a9a9a" stroke-width="0.7"/>
<line x1="51.5" y1="307.2" x2="225" y2="307.2" stroke="#9a9a9a" stroke-width="0.7"/>
<line x1="51.5" y1="233.8" x2="51.5" y2="355.4" stroke="#555" stroke-width="1"/>
<line x1="51.5" y1="355.4" x2="225" y2="355.4" stroke="#555" stroke-width="1"/>
<line x1="49" y1="238.55" x2="51.5" y2="238.55" stroke="#555" stroke-width="0.8"/>
<text x="48" y="238.55" font-size="5.4" text-anchor="end" font-family="'Liberation Serif', serif" font-weight="normal" fill="#000" dominant-baseline="central" textLength="5.5" lengthAdjust="spacingAndGlyphs">0.1</text>
<line x1="49" y1="247.3" x2="51.5" y2="247.3" stroke="#555" stroke-width="0.8"/>
<text x="48" y="247.3" font-size="5.4" text-anchor="end" font-family="'Liberation Serif', serif" font-weight="normal" fill="#000" dominant-baseline="central" textLength="5.5" lengthAdjust="spacingAndGlyphs">0.0</text>
<line x1="49" y1="256.05" x2="51.5" y2="256.05" stroke="#555" stroke-width="0.8"/>
<text x="48" y="256.05" font-size="5.4" text-anchor="end" font-family="'Liberation Serif', serif" font-weight="normal" fill="#000" dominant-baseline="central" textLength="6.97" lengthAdjust="spacingAndGlyphs">-0.1</text>
<line x1="49" y1="264.8" x2="51.5" y2="264.8" stroke="#555" stroke-width="0.8"/>
<text x="48" y="264.8" font-size="5.4" text-anchor="end" font-family="'Liberation Serif', serif" font-weight="normal" fill="#000" dominant-baseline="central" textLength="6.97" lengthAdjust="spacingAndGlyphs">-0.2</text>
<line x1="49" y1="273.55" x2="51.5" y2="273.55" stroke="#555" stroke-width="0.8"/>
<text x="48" y="273.55" font-size="5.4" text-anchor="end" font-family="'Liberation Serif', serif" font-weight="normal" fill="#000" dominant-baseline="central" textLength="6.97" lengthAdjust="spacingAndGlyphs">-0.3</text>
<line x1="49" y1="278.6" x2="51.5" y2="278.6" stroke="#555" stroke-width="0.8"/>
<line x1="49" y1="320.35" x2="51.5" y2="320.35" stroke="#555" stroke-width="0.8"/>
<text x="48" y="320.35" font-size="5.4" text-anchor="end" font-family="'Liberation Serif', serif" font-weight="normal" fill="#000" dominant-baseline="central" textLength="5.5" lengthAdjust="spacingAndGlyphs">0.5</text>
<line x1="49" y1="330.3" x2="51.5" y2="330.3" stroke="#555" stroke-width="0.8"/>
<text x="48" y="330.3" font-size="5.4" text-anchor="end" font-family="'Liberation Serif', serif" font-weight="normal" fill="#000" dominant-baseline="central" textLength="5.5" lengthAdjust="spacingAndGlyphs">0.0</text>
<line x1="49" y1="340.25" x2="51.5" y2="340.25" stroke="#555" stroke-width="0.8"/>
<text x="48" y="340.25" font-size="5.4" text-anchor="end" font-family="'Liberation Serif', serif" font-weight="normal" fill="#000" dominant-baseline="central" textLength="6.97" lengthAdjust="spacingAndGlyphs">-0.5</text>
<line x1="49" y1="350.2" x2="51.5" y2="350.2" stroke="#555" stroke-width="0.8"/>
<text x="48" y="350.2" font-size="5.4" text-anchor="end" font-family="'Liberation Serif', serif" font-weight="normal" fill="#000" dominant-baseline="central" textLength="6.97" lengthAdjust="spacingAndGlyphs">-1.0</text>
<line x1="49" y1="311.4" x2="51.5" y2="311.4" stroke="#555" stroke-width="0.8"/>
<line x1="55.4" y1="355.4" x2="55.4" y2="357.6" stroke="#555" stroke-width="0.8"/>
<text x="55.4" y="361" font-size="5" text-anchor="middle" font-family="'Liberation Serif', serif" font-weight="normal" fill="#000" dominant-baseline="central" textLength="2.05" lengthAdjust="spacingAndGlyphs">0</text>
<line x1="99.3" y1="355.4" x2="99.3" y2="357.6" stroke="#555" stroke-width="0.8"/>
<text x="99.3" y="361" font-size="5" text-anchor="middle" font-family="'Liberation Serif', serif" font-weight="normal" fill="#000" dominant-baseline="central" textLength="9.22" lengthAdjust="spacingAndGlyphs">5,000</text>
<line x1="143.2" y1="355.4" x2="143.2" y2="357.6" stroke="#555" stroke-width="0.8"/>
<text x="143.2" y="361" font-size="5" text-anchor="middle" font-family="'Liberation Serif', serif" font-weight="normal" fill="#000" dominant-baseline="central" textLength="11.27" lengthAdjust="spacingAndGlyphs">10,000</text>
<line x1="187.1" y1="355.4" x2="187.1" y2="357.6" stroke="#555" stroke-width="0.8"/>
<text x="187.1" y="361" font-size="5" text-anchor="middle" font-family="'Liberation Serif', serif" font-weight="normal" fill="#000" dominant-baseline="central" textLength="11.27" lengthAdjust="spacingAndGlyphs">15,000</text>
<line x1="221.34" y1="355.4" x2="221.34" y2="357.6" stroke="#555" stroke-width="0.8"/>
<text x="138.85" y="366.4" font-size="5.4" text-anchor="middle" font-family="'Liberation Serif', serif" font-weight="normal" fill="#000" dominant-baseline="central" textLength="45.36" lengthAdjust="spacingAndGlyphs">Rank in Ordered DataSet</text>
<text x="58.7" y="313.3" font-size="5" text-anchor="middle" font-family="'Liberation Serif', serif" font-weight="normal" fill="#000" dominant-baseline="central" textLength="2.57" lengthAdjust="spacingAndGlyphs">L</text>
<text x="217.14" y="349" font-size="5" text-anchor="middle" font-family="'Liberation Serif', serif" font-weight="normal" fill="#000" dominant-baseline="central" textLength="3.03" lengthAdjust="spacingAndGlyphs">H</text>
<text x="54.9" y="230.3" font-size="5.6" text-anchor="start" font-family="'Liberation Serif', serif" font-weight="normal" fill="#000" dominant-baseline="central" textLength="117.01" lengthAdjust="spacingAndGlyphs">JAK_STAT_SIGNALING_PATHWAY(ES=-0.3652,NP=0.0310)</text>
<text x="36.5" y="259" font-size="5.4" text-anchor="middle" font-family="'Liberation Serif', serif" font-weight="normal" fill="#000" dominant-baseline="central" transform="rotate(-90 36.5 259)" textLength="32.31" lengthAdjust="spacingAndGlyphs">Enrichment score</text>
<text x="31.9" y="331.4" font-size="5.4" text-anchor="middle" font-family="'Liberation Serif', serif" font-weight="normal" fill="#000" dominant-baseline="central" transform="rotate(-90 31.9 331.4)" textLength="32.99" lengthAdjust="spacingAndGlyphs">Ranked list metric</text>
<text x="36.8" y="329.3" font-size="4.3" text-anchor="middle" font-family="'Liberation Serif', serif" font-weight="normal" fill="#000" dominant-baseline="central" transform="rotate(-90 36.8 329.3)">c</text>
<line x1="301.1" y1="233.8" x2="301.1" y2="282.1" stroke="#e3e3e3" stroke-width="0.5"/>
<line x1="301.1" y1="306.3" x2="301.1" y2="355.4" stroke="#e3e3e3" stroke-width="0.5"/>
<line x1="345" y1="233.8" x2="345" y2="282.1" stroke="#e3e3e3" stroke-width="0.5"/>
<line x1="345" y1="306.3" x2="345" y2="355.4" stroke="#e3e3e3" stroke-width="0.5"/>
<line x1="388.9" y1="233.8" x2="388.9" y2="282.1" stroke="#e3e3e3" stroke-width="0.5"/>
<line x1="388.9" y1="306.3" x2="388.9" y2="355.4" stroke="#e3e3e3" stroke-width="0.5"/>
<line x1="253.3" y1="247.55" x2="422.8" y2="247.55" stroke="#ececec" stroke-width="0.5"/>
<line x1="253.3" y1="254.9" x2="422.8" y2="254.9" stroke="#ececec" stroke-width="0.5"/>
<line x1="253.3" y1="262.25" x2="422.8" y2="262.25" stroke="#ececec" stroke-width="0.5"/>
<line x1="253.3" y1="269.6" x2="422.8" y2="269.6" stroke="#ececec" stroke-width="0.5"/>
<line x1="253.3" y1="276.95" x2="422.8" y2="276.95" stroke="#ececec" stroke-width="0.5"/>
<line x1="253.3" y1="320.35" x2="422.8" y2="320.35" stroke="#ececec" stroke-width="0.5"/>
<line x1="253.3" y1="340.25" x2="422.8" y2="340.25" stroke="#ececec" stroke-width="0.5"/>
<line x1="253.3" y1="350.2" x2="422.8" y2="350.2" stroke="#ececec" stroke-width="0.5"/>
<line x1="253.3" y1="240.2" x2="426.8" y2="240.2" stroke="#bbbbbb" stroke-width="0.5" stroke-dasharray="1,0.6"/>
<rect x="257" y="282.5" width="0.7" height="23.4" fill="#52aa7b" stroke="none" stroke-width="0"/>
<rect x="261" y="282.5" width="0.8" height="23.4" fill="#52aa7b" stroke="none" stroke-width="0"/>
<rect x="262" y="282.5" width="0.6" height="23.4" fill="#a6d4b9" stroke="none" stroke-width="0"/>
<rect x="265.1" y="282.5" width="1.4" height="23.4" fill="#0b8445" stroke="none" stroke-width="0"/>
<rect x="270.2" y="282.5" width="0.7" height="23.4" fill="#0b8445" stroke="none" stroke-width="0"/>
<rect x="275.7" y="282.5" width="1.3" height="23.4" fill="#a6d4b9" stroke="none" stroke-width="0"/>
<rect x="279.4" y="282.5" width="0.7" height="23.4" fill="#52aa7b" stroke="none" stroke-width="0"/>
<rect x="282" y="282.5" width="0.7" height="23.4" fill="#52aa7b" stroke="none" stroke-width="0"/>
<rect x="284.8" y="282.5" width="1.1" height="23.4" fill="#0b8445" stroke="none" stroke-width="0"/>
<rect x="287.3" y="282.5" width="0.7" height="23.4" fill="#52aa7b" stroke="none" stroke-width="0"/>
<rect x="290.1" y="282.5" width="1.3" height="23.4" fill="#52aa7b" stroke="none" stroke-width="0"/>
<rect x="293.4" y="282.5" width="1" height="23.4" fill="#0b8445" stroke="none" stroke-width="0"/>
<rect x="294.8" y="282.5" width="1.2" height="23.4" fill="#52aa7b" stroke="none" stroke-width="0"/>
<rect x="297.8" y="282.5" width="0.7" height="23.4" fill="#a6d4b9" stroke="none" stroke-width="0"/>
<rect x="300.6" y="282.5" width="1.3" height="23.4" fill="#52aa7b" stroke="none" stroke-width="0"/>
<rect x="303.9" y="282.5" width="0.7" height="23.4" fill="#52aa7b" stroke="none" stroke-width="0"/>
<rect x="305.2" y="282.5" width="0.7" height="23.4" fill="#a6d4b9" stroke="none" stroke-width="0"/>
<rect x="307.8" y="282.5" width="2" height="23.4" fill="#0b8445" stroke="none" stroke-width="0"/>
<rect x="311.8" y="282.5" width="2" height="23.4" fill="#0b8445" stroke="none" stroke-width="0"/>
<rect x="316.8" y="282.5" width="0.7" height="23.4" fill="#52aa7b" stroke="none" stroke-width="0"/>
<rect x="320.1" y="282.5" width="0.7" height="23.4" fill="#52aa7b" stroke="none" stroke-width="0"/>
<rect x="326.2" y="282.5" width="1.3" height="23.4" fill="#0b8445" stroke="none" stroke-width="0"/>
<rect x="333.3" y="282.5" width="0.7" height="23.4" fill="#52aa7b" stroke="none" stroke-width="0"/>
<rect x="339.8" y="282.5" width="1.1" height="23.4" fill="#52aa7b" stroke="none" stroke-width="0"/>
<rect x="341.9" y="282.5" width="2" height="23.4" fill="#0b8445" stroke="none" stroke-width="0"/>
<rect x="345.2" y="282.5" width="1.8" height="23.4" fill="#a6d4b9" stroke="none" stroke-width="0"/>
<rect x="351.1" y="282.5" width="1.2" height="23.4" fill="#0b8445" stroke="none" stroke-width="0"/>
<rect x="353" y="282.5" width="1.4" height="23.4" fill="#0b8445" stroke="none" stroke-width="0"/>
<rect x="357" y="282.5" width="1.8" height="23.4" fill="#0b8445" stroke="none" stroke-width="0"/>
<rect x="364.9" y="282.5" width="1.3" height="23.4" fill="#0b8445" stroke="none" stroke-width="0"/>
<rect x="368.2" y="282.5" width="2.6" height="23.4" fill="#52aa7b" stroke="none" stroke-width="0"/>
<rect x="375.4" y="282.5" width="2" height="23.4" fill="#0b8445" stroke="none" stroke-width="0"/>
<rect x="382" y="282.5" width="2.6" height="23.4" fill="#a6d4b9" stroke="none" stroke-width="0"/>
<rect x="387.3" y="282.5" width="2.2" height="23.4" fill="#0b8445" stroke="none" stroke-width="0"/>
<rect x="390.2" y="282.5" width="1.7" height="23.4" fill="#52aa7b" stroke="none" stroke-width="0"/>
<rect x="398.4" y="282.5" width="1.2" height="23.4" fill="#0b8445" stroke="none" stroke-width="0"/>
<rect x="402.4" y="282.5" width="2" height="23.4" fill="#0b8445" stroke="none" stroke-width="0"/>
<rect x="407" y="282.5" width="0.8" height="23.4" fill="#52aa7b" stroke="none" stroke-width="0"/>
<rect x="408.6" y="282.5" width="1" height="23.4" fill="#52aa7b" stroke="none" stroke-width="0"/>
<rect x="412.2" y="282.5" width="1.8" height="23.4" fill="#a6d4b9" stroke="none" stroke-width="0"/>
<rect x="414" y="282.5" width="2.2" height="23.4" fill="#52aa7b" stroke="none" stroke-width="0"/>
<rect x="416.8" y="282.5" width="1.7" height="23.4" fill="#52aa7b" stroke="none" stroke-width="0"/>
<rect x="418.5" y="282.5" width="1.5" height="23.4" fill="#0b8445" stroke="none" stroke-width="0"/>
<rect x="420" y="282.5" width="0.7" height="23.4" fill="#52aa7b" stroke="none" stroke-width="0"/>
<rect x="420.7" y="282.5" width="2.7" height="23.4" fill="#0b8445" stroke="none" stroke-width="0"/>
<polygon points="257.2,330.3 257.2,311.4 257.53,315.38 258.03,318.36 258.58,319.95 258.86,320.75 259.97,321.81 260.52,322.34 261.35,322.67 262.73,323.22 264.11,323.78 265.5,324.33 266.88,324.6 268.26,324.86 269.65,325.13 271.03,325.39 272.41,325.66 273.79,325.92 275.18,326.05 276.56,326.19 277.94,326.32 279.33,326.45 280.71,326.59 282.09,326.72 283.47,326.85 284.86,326.98 286.24,327.12 287.62,327.25 289.01,327.38 290.39,327.51 291.77,327.6 293.15,327.68 294.54,327.76 295.92,327.85 297.3,327.93 298.69,328.01 300.07,328.09 301.45,328.18 302.83,328.26 304.22,328.34 305.6,328.43 306.98,328.51 308.37,328.58 309.75,328.64 311.13,328.71 312.51,328.77 313.9,328.84 315.28,328.91 316.66,328.97 318.05,329.04 319.43,329.11 320.81,329.17 322.19,329.24 323.58,329.31 324.96,329.35 326.34,329.4 327.73,329.45 329.11,329.5 330.49,329.55 331.87,329.6 333.26,329.65 334.64,329.7 336.02,329.75 337.41,329.8 338.79,329.85 340.17,329.9 341.55,329.97 342.94,330.03 344.32,330.1 345.7,330.17 347.09,330.23 348.47,330.3 349.85,330.35 351.23,330.4 352.62,330.45 354,330.5 355.38,330.55 356.77,330.6 358.15,330.65 359.53,330.7 360.91,330.75 362.3,330.8 363.68,330.85 365.06,330.9 366.45,330.96 367.83,331.03 369.21,331.1 370.59,331.16 371.98,331.23 373.36,331.3 374.74,331.36 376.13,331.43 377.51,331.49 378.89,331.56 380.27,331.63 381.66,331.69 383.04,331.78 384.42,331.86 385.81,331.94 387.19,332.02 388.57,332.11 389.95,332.19 391.34,332.27 392.72,332.36 394.1,332.44 395.48,332.52 396.87,332.61 398.25,332.69 399.63,332.83 401.02,332.97 402.4,333.11 403.78,333.26 405.16,333.4 406.55,333.54 407.93,333.68 409.31,333.83 409.87,333.88 410.7,334.06 412.08,334.35 413.46,334.64 414.84,334.93 416.23,335.22 416.5,335.28 417.61,335.81 418.99,336.47 419.82,336.87 420.38,337.46 421.48,338.66 421.76,339.38 422.48,341.25 422.98,346.22 423.14,350.2 423.14,330.3" fill="#c8c8c8" stroke="#c8c8c8" stroke-width="0.4"/>
<polyline points="257.2,240.3 261.2,240.5 263.5,239.2 265.8,237.9 269.7,238.2 276.3,240.5 284.2,241.8 293.4,243.5 301.2,244.8 313.1,247.7 326.2,253.2 335,257.1 346.1,262 357.2,266.1 368.3,270 379.4,273.1 389.1,274.9 394.6,276.5 401.6,278.2 404.3,276.8 409.9,276.5 414.8,276.3 418.2,272.4 420.3,265.4 421.7,255.7 423.1,240.5" fill="none" stroke="#219a66" stroke-width="0.95" stroke-linejoin="round"/>
<rect x="253.3" y="233.8" width="173.5" height="121.6" fill="none" stroke="#9a9a9a" stroke-width="0.7"/>
<line x1="253.3" y1="282.1" x2="426.8" y2="282.1" stroke="#9a9a9a" stroke-width="0.7"/>
<line x1="253.3" y1="306.3" x2="426.8" y2="306.3" stroke="#9a9a9a" stroke-width="0.7"/>
<line x1="253.3" y1="233.8" x2="253.3" y2="355.4" stroke="#555" stroke-width="1"/>
<line x1="253.3" y1="355.4" x2="426.8" y2="355.4" stroke="#555" stroke-width="1"/>
<line x1="250.8" y1="240.2" x2="253.3" y2="240.2" stroke="#555" stroke-width="0.8"/>
<text x="249.8" y="240.2" font-size="5.4" text-anchor="end" font-family="'Liberation Serif', serif" font-weight="normal" fill="#000" dominant-baseline="central" textLength="5.5" lengthAdjust="spacingAndGlyphs">0.0</text>
<line x1="250.8" y1="247.55" x2="253.3" y2="247.55" stroke="#555" stroke-width="0.8"/>
<text x="249.8" y="247.55" font-size="5.4" text-anchor="end" font-family="'Liberation Serif', serif" font-weight="normal" fill="#000" dominant-baseline="central" textLength="6.97" lengthAdjust="spacingAndGlyphs">-0.1</text>
<line x1="250.8" y1="254.9" x2="253.3" y2="254.9" stroke="#555" stroke-width="0.8"/>
<text x="249.8" y="254.9" font-size="5.4" text-anchor="end" font-family="'Liberation Serif', serif" font-weight="normal" fill="#000" dominant-baseline="central" textLength="6.97" lengthAdjust="spacingAndGlyphs">-0.2</text>
<line x1="250.8" y1="262.25" x2="253.3" y2="262.25" stroke="#555" stroke-width="0.8"/>
<text x="249.8" y="262.25" font-size="5.4" text-anchor="end" font-family="'Liberation Serif', serif" font-weight="normal" fill="#000" dominant-baseline="central" textLength="6.97" lengthAdjust="spacingAndGlyphs">-0.3</text>
<line x1="250.8" y1="269.6" x2="253.3" y2="269.6" stroke="#555" stroke-width="0.8"/>
<text x="249.8" y="269.6" font-size="5.4" text-anchor="end" font-family="'Liberation Serif', serif" font-weight="normal" fill="#000" dominant-baseline="central" textLength="6.97" lengthAdjust="spacingAndGlyphs">-0.4</text>
<line x1="250.8" y1="276.95" x2="253.3" y2="276.95" stroke="#555" stroke-width="0.8"/>
<text x="249.8" y="276.95" font-size="5.4" text-anchor="end" font-family="'Liberation Serif', serif" font-weight="normal" fill="#000" dominant-baseline="central" textLength="6.97" lengthAdjust="spacingAndGlyphs">-0.5</text>
<line x1="250.8" y1="236.6" x2="253.3" y2="236.6" stroke="#555" stroke-width="0.8"/>
<line x1="250.8" y1="320.35" x2="253.3" y2="320.35" stroke="#555" stroke-width="0.8"/>
<text x="249.8" y="320.35" font-size="5.4" text-anchor="end" font-family="'Liberation Serif', serif" font-weight="normal" fill="#000" dominant-baseline="central" textLength="5.5" lengthAdjust="spacingAndGlyphs">0.5</text>
<line x1="250.8" y1="330.3" x2="253.3" y2="330.3" stroke="#555" stroke-width="0.8"/>
<text x="249.8" y="330.3" font-size="5.4" text-anchor="end" font-family="'Liberation Serif', serif" font-weight="normal" fill="#000" dominant-baseline="central" textLength="5.5" lengthAdjust="spacingAndGlyphs">0.0</text>
<line x1="250.8" y1="340.25" x2="253.3" y2="340.25" stroke="#555" stroke-width="0.8"/>
<text x="249.8" y="340.25" font-size="5.4" text-anchor="end" font-family="'Liberation Serif', serif" font-weight="normal" fill="#000" dominant-baseline="central" textLength="6.97" lengthAdjust="spacingAndGlyphs">-0.5</text>
<line x1="250.8" y1="350.2" x2="253.3" y2="350.2" stroke="#555" stroke-width="0.8"/>
<text x="249.8" y="350.2" font-size="5.4" text-anchor="end" font-family="'Liberation Serif', serif" font-weight="normal" fill="#000" dominant-baseline="central" textLength="6.97" lengthAdjust="spacingAndGlyphs">-1.0</text>
<line x1="250.8" y1="311.4" x2="253.3" y2="311.4" stroke="#555" stroke-width="0.8"/>
<line x1="257.2" y1="355.4" x2="257.2" y2="357.6" stroke="#555" stroke-width="0.8"/>
<text x="257.2" y="361" font-size="5" text-anchor="middle" font-family="'Liberation Serif', serif" font-weight="normal" fill="#000" dominant-baseline="central" textLength="2.05" lengthAdjust="spacingAndGlyphs">0</text>
<line x1="301.1" y1="355.4" x2="301.1" y2="357.6" stroke="#555" stroke-width="0.8"/>
<text x="301.1" y="361" font-size="5" text-anchor="middle" font-family="'Liberation Serif', serif" font-weight="normal" fill="#000" dominant-baseline="central" textLength="9.22" lengthAdjust="spacingAndGlyphs">5,000</text>
<line x1="345" y1="355.4" x2="345" y2="357.6" stroke="#555" stroke-width="0.8"/>
<text x="345" y="361" font-size="5" text-anchor="middle" font-family="'Liberation Serif', serif" font-weight="normal" fill="#000" dominant-baseline="central" textLength="11.27" lengthAdjust="spacingAndGlyphs">10,000</text>
<line x1="388.9" y1="355.4" x2="388.9" y2="357.6" stroke="#555" stroke-width="0.8"/>
<text x="388.9" y="361" font-size="5" text-anchor="middle" font-family="'Liberation Serif', serif" font-weight="normal" fill="#000" dominant-baseline="central" textLength="11.27" lengthAdjust="spacingAndGlyphs">15,000</text>
<line x1="423.14" y1="355.4" x2="423.14" y2="357.6" stroke="#555" stroke-width="0.8"/>
<text x="340.65" y="366.4" font-size="5.4" text-anchor="middle" font-family="'Liberation Serif', serif" font-weight="normal" fill="#000" dominant-baseline="central" textLength="45.36" lengthAdjust="spacingAndGlyphs">Rank in Ordered DataSet</text>
<text x="260.5" y="313.3" font-size="5" text-anchor="middle" font-family="'Liberation Serif', serif" font-weight="normal" fill="#000" dominant-baseline="central" textLength="2.57" lengthAdjust="spacingAndGlyphs">L</text>
<text x="418.94" y="349" font-size="5" text-anchor="middle" font-family="'Liberation Serif', serif" font-weight="normal" fill="#000" dominant-baseline="central" textLength="3.03" lengthAdjust="spacingAndGlyphs">H</text>
<text x="257.9" y="230.3" font-size="5.6" text-anchor="start" font-family="'Liberation Serif', serif" font-weight="normal" fill="#000" dominant-baseline="central" textLength="145.2" lengthAdjust="spacingAndGlyphs">TOLL_LIKE_RECEPTOR_SIGNALING_PATHWAY(ES=-0.5261,NP=0.0869)</text>
<line x1="253.9" y1="230.4" x2="256.7" y2="230.4" stroke="#1e9a62" stroke-width="1.1"/>
<text x="238.3" y="258.5" font-size="5.4" text-anchor="middle" font-family="'Liberation Serif', serif" font-weight="normal" fill="#000" dominant-baseline="central" transform="rotate(-90 238.3 258.5)" textLength="32.31" lengthAdjust="spacingAndGlyphs">Enrichment score</text>
<text x="233.7" y="324.5" font-size="5.4" text-anchor="middle" font-family="'Liberation Serif', serif" font-weight="normal" fill="#c8c8c8" dominant-baseline="central" transform="rotate(-90 233.7 324.5)" textLength="32.99" lengthAdjust="spacingAndGlyphs">Ranked list metric</text>
<text x="238.6" y="329.5" font-size="4.3" text-anchor="middle" font-family="'Liberation Serif', serif" font-weight="normal" fill="#000" dominant-baseline="central" transform="rotate(-90 238.6 329.5)">c</text>
<line x1="506.8" y1="233.8" x2="506.8" y2="282.1" stroke="#e3e3e3" stroke-width="0.5"/>
<line x1="506.8" y1="306.5" x2="506.8" y2="355.4" stroke="#e3e3e3" stroke-width="0.5"/>
<line x1="550.7" y1="233.8" x2="550.7" y2="282.1" stroke="#e3e3e3" stroke-width="0.5"/>
<line x1="550.7" y1="306.5" x2="550.7" y2="355.4" stroke="#e3e3e3" stroke-width="0.5"/>
<line x1="594.6" y1="233.8" x2="594.6" y2="282.1" stroke="#e3e3e3" stroke-width="0.5"/>
<line x1="594.6" y1="306.5" x2="594.6" y2="355.4" stroke="#e3e3e3" stroke-width="0.5"/>
<line x1="459" y1="249.3" x2="628.5" y2="249.3" stroke="#ececec" stroke-width="0.5"/>
<line x1="459" y1="257.5" x2="628.5" y2="257.5" stroke="#ececec" stroke-width="0.5"/>
<line x1="459" y1="265.7" x2="628.5" y2="265.7" stroke="#ececec" stroke-width="0.5"/>
<line x1="459" y1="273.9" x2="628.5" y2="273.9" stroke="#ececec" stroke-width="0.5"/>
<line x1="459" y1="320.35" x2="628.5" y2="320.35" stroke="#ececec" stroke-width="0.5"/>
<line x1="459" y1="340.25" x2="628.5" y2="340.25" stroke="#ececec" stroke-width="0.5"/>
<line x1="459" y1="350.2" x2="628.5" y2="350.2" stroke="#ececec" stroke-width="0.5"/>
<line x1="459" y1="241.1" x2="632.5" y2="241.1" stroke="#bbbbbb" stroke-width="0.5" stroke-dasharray="1,0.6"/>
<rect x="462.2" y="282.5" width="0.7" height="23.6" fill="#0b8445" stroke="none" stroke-width="0"/>
<rect x="466.1" y="282.5" width="0.7" height="23.6" fill="#0b8445" stroke="none" stroke-width="0"/>
<rect x="470.1" y="282.5" width="0.7" height="23.6" fill="#0b8445" stroke="none" stroke-width="0"/>
<rect x="473.4" y="282.5" width="0.7" height="23.6" fill="#52aa7b" stroke="none" stroke-width="0"/>
<rect x="477.3" y="282.5" width="0.7" height="23.6" fill="#0b8445" stroke="none" stroke-width="0"/>
<rect x="481.3" y="282.5" width="0.7" height="23.6" fill="#52aa7b" stroke="none" stroke-width="0"/>
<rect x="483.6" y="282.5" width="1.3" height="23.6" fill="#0b8445" stroke="none" stroke-width="0"/>
<rect x="490.2" y="282.5" width="0.8" height="23.6" fill="#0b8445" stroke="none" stroke-width="0"/>
<rect x="499.9" y="282.5" width="0.7" height="23.6" fill="#0b8445" stroke="none" stroke-width="0"/>
<rect x="503.3" y="282.5" width="1.3" height="23.6" fill="#0b8445" stroke="none" stroke-width="0"/>
<rect x="515.1" y="282.5" width="0.7" height="23.6" fill="#52aa7b" stroke="none" stroke-width="0"/>
<rect x="517.8" y="282.5" width="0.7" height="23.6" fill="#a6d4b9" stroke="none" stroke-width="0"/>
<rect x="520" y="282.5" width="0.7" height="23.6" fill="#0b8445" stroke="none" stroke-width="0"/>
<rect x="531.8" y="282.5" width="0.8" height="23.6" fill="#0b8445" stroke="none" stroke-width="0"/>
<rect x="537.5" y="282.5" width="0.9" height="23.6" fill="#0b8445" stroke="none" stroke-width="0"/>
<rect x="542.1" y="282.5" width="3.5" height="23.6" fill="#a6d4b9" stroke="none" stroke-width="0"/>
<rect x="549" y="282.5" width="0.7" height="23.6" fill="#52aa7b" stroke="none" stroke-width="0"/>
<rect x="556.2" y="282.5" width="0.7" height="23.6" fill="#0b8445" stroke="none" stroke-width="0"/>
<rect x="561.1" y="282.5" width="2" height="23.6" fill="#52aa7b" stroke="none" stroke-width="0"/>
<rect x="570.3" y="282.5" width="1.3" height="23.6" fill="#52aa7b" stroke="none" stroke-width="0"/>
<rect x="574.9" y="282.5" width="1.3" height="23.6" fill="#0b8445" stroke="none" stroke-width="0"/>
<rect x="581.1" y="282.5" width="0.7" height="23.6" fill="#52aa7b" stroke="none" stroke-width="0"/>
<rect x="588" y="282.5" width="1.3" height="23.6" fill="#0b8445" stroke="none" stroke-width="0"/>
<rect x="589.3" y="282.5" width="0.7" height="23.6" fill="#52aa7b" stroke="none" stroke-width="0"/>
<rect x="592.6" y="282.5" width="2" height="23.6" fill="#52aa7b" stroke="none" stroke-width="0"/>
<rect x="596.6" y="282.5" width="1.9" height="23.6" fill="#a6d4b9" stroke="none" stroke-width="0"/>
<rect x="603.1" y="282.5" width="1.3" height="23.6" fill="#52aa7b" stroke="none" stroke-width="0"/>
<rect x="608.1" y="282.5" width="0.7" height="23.6" fill="#52aa7b" stroke="none" stroke-width="0"/>
<rect x="613" y="282.5" width="3.9" height="23.6" fill="#52aa7b" stroke="none" stroke-width="0"/>
<rect x="618.2" y="282.5" width="2.7" height="23.6" fill="#0b8445" stroke="none" stroke-width="0"/>
<rect x="622.2" y="282.5" width="3.9" height="23.6" fill="#0b8445" stroke="none" stroke-width="0"/>
<rect x="626.8" y="282.5" width="1.9" height="23.6" fill="#0b8445" stroke="none" stroke-width="0"/>
<polygon points="462.9,330.3 462.9,311.4 463.23,315.38 463.73,318.36 464.28,319.95 464.56,320.75 465.67,321.81 466.22,322.34 467.05,322.67 468.43,323.22 469.81,323.78 471.2,324.33 472.58,324.6 473.96,324.86 475.35,325.13 476.73,325.39 478.11,325.66 479.49,325.92 480.88,326.05 482.26,326.19 483.64,326.32 485.03,326.45 486.41,326.59 487.79,326.72 489.17,326.85 490.56,326.98 491.94,327.12 493.32,327.25 494.71,327.38 496.09,327.51 497.47,327.6 498.85,327.68 500.24,327.76 501.62,327.85 503,327.93 504.39,328.01 505.77,328.09 507.15,328.18 508.53,328.26 509.92,328.34 511.3,328.43 512.68,328.51 514.07,328.58 515.45,328.64 516.83,328.71 518.21,328.77 519.6,328.84 520.98,328.91 522.36,328.97 523.75,329.04 525.13,329.11 526.51,329.17 527.89,329.24 529.28,329.31 530.66,329.35 532.04,329.4 533.43,329.45 534.81,329.5 536.19,329.55 537.57,329.6 538.96,329.65 540.34,329.7 541.72,329.75 543.11,329.8 544.49,329.85 545.87,329.9 547.25,329.97 548.64,330.03 550.02,330.1 551.4,330.17 552.79,330.23 554.17,330.3 555.55,330.35 556.93,330.4 558.32,330.45 559.7,330.5 561.08,330.55 562.47,330.6 563.85,330.65 565.23,330.7 566.61,330.75 568,330.8 569.38,330.85 570.76,330.9 572.15,330.96 573.53,331.03 574.91,331.1 576.29,331.16 577.68,331.23 579.06,331.3 580.44,331.36 581.83,331.43 583.21,331.49 584.59,331.56 585.97,331.63 587.36,331.69 588.74,331.78 590.12,331.86 591.51,331.94 592.89,332.02 594.27,332.11 595.65,332.19 597.04,332.27 598.42,332.36 599.8,332.44 601.18,332.52 602.57,332.61 603.95,332.69 605.33,332.83 606.72,332.97 608.1,333.11 609.48,333.26 610.86,333.4 612.25,333.54 613.63,333.68 615.01,333.83 615.57,333.88 616.4,334.06 617.78,334.35 619.16,334.64 620.54,334.93 621.93,335.22 622.2,335.28 623.31,335.81 624.69,336.47 625.52,336.87 626.08,337.46 627.18,338.66 627.46,339.38 628.18,341.25 628.68,346.22 628.84,350.2 628.84,330.3" fill="#c8c8c8" stroke="#c8c8c8" stroke-width="0.4"/>
<polyline points="462.2,241.5 465,240.5 468.1,239.8 474.7,239.2 483.9,239.2 485.2,238.1 488.5,239.2 492.4,239.2 499.7,242.5 501,241.1 504.3,240.7 518.1,246.4 531.2,252.3 540,256.4 551.1,261 562.2,265.4 573.3,270.3 581.6,273.1 587.9,275.9 592.7,275.9 595.5,275.2 601,275.9 605.2,276.8 612.1,278.2 615.6,274.5 619.7,271.7 622.9,267.5 624.6,259.9 626,253 627.4,248.8 628.5,241.2" fill="none" stroke="#219a66" stroke-width="0.95" stroke-linejoin="round"/>
<rect x="459" y="233.8" width="173.5" height="121.6" fill="none" stroke="#9a9a9a" stroke-width="0.7"/>
<line x1="459" y1="282.1" x2="632.5" y2="282.1" stroke="#9a9a9a" stroke-width="0.7"/>
<line x1="459" y1="306.5" x2="632.5" y2="306.5" stroke="#9a9a9a" stroke-width="0.7"/>
<line x1="459" y1="233.8" x2="459" y2="355.4" stroke="#555" stroke-width="1"/>
<line x1="459" y1="355.4" x2="632.5" y2="355.4" stroke="#555" stroke-width="1"/>
<line x1="456.5" y1="241.1" x2="459" y2="241.1" stroke="#555" stroke-width="0.8"/>
<text x="455.5" y="241.1" font-size="5.4" text-anchor="end" font-family="'Liberation Serif', serif" font-weight="normal" fill="#000" dominant-baseline="central" textLength="5.5" lengthAdjust="spacingAndGlyphs">0.0</text>
<line x1="456.5" y1="249.3" x2="459" y2="249.3" stroke="#555" stroke-width="0.8"/>
<text x="455.5" y="249.3" font-size="5.4" text-anchor="end" font-family="'Liberation Serif', serif" font-weight="normal" fill="#000" dominant-baseline="central" textLength="6.97" lengthAdjust="spacingAndGlyphs">-0.1</text>
<line x1="456.5" y1="257.5" x2="459" y2="257.5" stroke="#555" stroke-width="0.8"/>
<text x="455.5" y="257.5" font-size="5.4" text-anchor="end" font-family="'Liberation Serif', serif" font-weight="normal" fill="#000" dominant-baseline="central" textLength="6.97" lengthAdjust="spacingAndGlyphs">-0.2</text>
<line x1="456.5" y1="265.7" x2="459" y2="265.7" stroke="#555" stroke-width="0.8"/>
<text x="455.5" y="265.7" font-size="5.4" text-anchor="end" font-family="'Liberation Serif', serif" font-weight="normal" fill="#000" dominant-baseline="central" textLength="6.97" lengthAdjust="spacingAndGlyphs">-0.3</text>
<line x1="456.5" y1="273.9" x2="459" y2="273.9" stroke="#555" stroke-width="0.8"/>
<text x="455.5" y="273.9" font-size="5.4" text-anchor="end" font-family="'Liberation Serif', serif" font-weight="normal" fill="#000" dominant-baseline="central" textLength="6.97" lengthAdjust="spacingAndGlyphs">-0.4</text>
<line x1="456.5" y1="278.3" x2="459" y2="278.3" stroke="#555" stroke-width="0.8"/>
<line x1="456.5" y1="320.35" x2="459" y2="320.35" stroke="#555" stroke-width="0.8"/>
<text x="455.5" y="320.35" font-size="5.4" text-anchor="end" font-family="'Liberation Serif', serif" font-weight="normal" fill="#000" dominant-baseline="central" textLength="5.5" lengthAdjust="spacingAndGlyphs">0.5</text>
<line x1="456.5" y1="330.3" x2="459" y2="330.3" stroke="#555" stroke-width="0.8"/>
<text x="455.5" y="330.3" font-size="5.4" text-anchor="end" font-family="'Liberation Serif', serif" font-weight="normal" fill="#000" dominant-baseline="central" textLength="5.5" lengthAdjust="spacingAndGlyphs">0.0</text>
<line x1="456.5" y1="340.25" x2="459" y2="340.25" stroke="#555" stroke-width="0.8"/>
<text x="455.5" y="340.25" font-size="5.4" text-anchor="end" font-family="'Liberation Serif', serif" font-weight="normal" fill="#000" dominant-baseline="central" textLength="6.97" lengthAdjust="spacingAndGlyphs">-0.5</text>
<line x1="456.5" y1="350.2" x2="459" y2="350.2" stroke="#555" stroke-width="0.8"/>
<text x="455.5" y="350.2" font-size="5.4" text-anchor="end" font-family="'Liberation Serif', serif" font-weight="normal" fill="#000" dominant-baseline="central" textLength="6.97" lengthAdjust="spacingAndGlyphs">-1.0</text>
<line x1="456.5" y1="311.4" x2="459" y2="311.4" stroke="#555" stroke-width="0.8"/>
<line x1="462.9" y1="355.4" x2="462.9" y2="357.6" stroke="#555" stroke-width="0.8"/>
<text x="462.9" y="361" font-size="5" text-anchor="middle" font-family="'Liberation Serif', serif" font-weight="normal" fill="#000" dominant-baseline="central" textLength="2.05" lengthAdjust="spacingAndGlyphs">0</text>
<line x1="506.8" y1="355.4" x2="506.8" y2="357.6" stroke="#555" stroke-width="0.8"/>
<text x="506.8" y="361" font-size="5" text-anchor="middle" font-family="'Liberation Serif', serif" font-weight="normal" fill="#000" dominant-baseline="central" textLength="9.22" lengthAdjust="spacingAndGlyphs">5,000</text>
<line x1="550.7" y1="355.4" x2="550.7" y2="357.6" stroke="#555" stroke-width="0.8"/>
<text x="550.7" y="361" font-size="5" text-anchor="middle" font-family="'Liberation Serif', serif" font-weight="normal" fill="#000" dominant-baseline="central" textLength="11.27" lengthAdjust="spacingAndGlyphs">10,000</text>
<line x1="594.6" y1="355.4" x2="594.6" y2="357.6" stroke="#555" stroke-width="0.8"/>
<text x="594.6" y="361" font-size="5" text-anchor="middle" font-family="'Liberation Serif', serif" font-weight="normal" fill="#000" dominant-baseline="central" textLength="11.27" lengthAdjust="spacingAndGlyphs">15,000</text>
<line x1="628.84" y1="355.4" x2="628.84" y2="357.6" stroke="#555" stroke-width="0.8"/>
<text x="546.35" y="366.4" font-size="5.4" text-anchor="middle" font-family="'Liberation Serif', serif" font-weight="normal" fill="#000" dominant-baseline="central" textLength="45.36" lengthAdjust="spacingAndGlyphs">Rank in Ordered DataSet</text>
<text x="466.2" y="313.3" font-size="5" text-anchor="middle" font-family="'Liberation Serif', serif" font-weight="normal" fill="#000" dominant-baseline="central" textLength="2.57" lengthAdjust="spacingAndGlyphs">L</text>
<text x="624.64" y="349" font-size="5" text-anchor="middle" font-family="'Liberation Serif', serif" font-weight="normal" fill="#000" dominant-baseline="central" textLength="3.03" lengthAdjust="spacingAndGlyphs">H</text>
<text x="463.6" y="230.3" font-size="5.6" text-anchor="start" font-family="'Liberation Serif', serif" font-weight="normal" fill="#000" dominant-baseline="central" textLength="145.12" lengthAdjust="spacingAndGlyphs">RIG_I_LIKE_RECEPTOR_SIGNALING_PATHWAY(ES=-0.4724,NP=0.0116)</text>
<line x1="459.6" y1="230.4" x2="462.4" y2="230.4" stroke="#1e9a62" stroke-width="1.1"/>
<text x="444" y="257" font-size="5.4" text-anchor="middle" font-family="'Liberation Serif', serif" font-weight="normal" fill="#000" dominant-baseline="central" transform="rotate(-90 444 257)" textLength="32.31" lengthAdjust="spacingAndGlyphs">Enrichment score</text>
<text x="439.4" y="324.9" font-size="5.4" text-anchor="middle" font-family="'Liberation Serif', serif" font-weight="normal" fill="#000" dominant-baseline="central" transform="rotate(-90 439.4 324.9)" textLength="32.99" lengthAdjust="spacingAndGlyphs">Ranked list metric</text>
<text x="444.3" y="328.7" font-size="4.3" text-anchor="middle" font-family="'Liberation Serif', serif" font-weight="normal" fill="#000" dominant-baseline="central" transform="rotate(-90 444.3 328.7)">c</text>
<text x="1.8" y="372.82" font-size="10.6" text-anchor="start" font-family="'Liberation Serif', serif" font-weight="bold" fill="#000" dominant-baseline="central">E</text>
<line x1="30.7" y1="382" x2="30.7" y2="475.6" stroke="#111" stroke-width="1.1"/>
<line x1="27.7" y1="475" x2="30.7" y2="475" stroke="#111" stroke-width="0.9"/>
<text x="26.3" y="475" font-size="4.5" text-anchor="end" font-family="'Liberation Sans', sans-serif" font-weight="bold" fill="#111" dominant-baseline="central">0</text>
<line x1="27.7" y1="451.9" x2="30.7" y2="451.9" stroke="#111" stroke-width="0.9"/>
<text x="26.3" y="451.9" font-size="4.5" text-anchor="end" font-family="'Liberation Sans', sans-serif" font-weight="bold" fill="#111" dominant-baseline="central">2</text>
<line x1="27.7" y1="428.8" x2="30.7" y2="428.8" stroke="#111" stroke-width="0.9"/>
<text x="26.3" y="428.8" font-size="4.5" text-anchor="end" font-family="'Liberation Sans', sans-serif" font-weight="bold" fill="#111" dominant-baseline="central">4</text>
<line x1="27.7" y1="405.7" x2="30.7" y2="405.7" stroke="#111" stroke-width="0.9"/>
<text x="26.3" y="405.7" font-size="4.5" text-anchor="end" font-family="'Liberation Sans', sans-serif" font-weight="bold" fill="#111" dominant-baseline="central">6</text>
<line x1="27.7" y1="382.6" x2="30.7" y2="382.6" stroke="#111" stroke-width="0.9"/>
<text x="26.3" y="382.6" font-size="4.5" text-anchor="end" font-family="'Liberation Sans', sans-serif" font-weight="bold" fill="#111" dominant-baseline="central">8</text>
<line x1="30.2" y1="475" x2="218.8" y2="475" stroke="#111" stroke-width="1.2"/>
<text x="14.6" y="429.3" font-size="5" text-anchor="middle" font-family="'Liberation Sans', sans-serif" font-weight="bold" fill="#111" dominant-baseline="central" transform="rotate(-90 14.6 429.3)">Relative mRNA expression</text>
<line x1="43.4" y1="475" x2="43.4" y2="478.2" stroke="#111" stroke-width="0.9"/>
<text x="43.4" y="482.8" font-size="5.2" text-anchor="middle" font-family="'Liberation Sans', sans-serif" font-weight="bold" fill="#111" dominant-baseline="central">ISG15</text>
<polyline points="33.38,475 33.38,463.17 35.92,463.17 35.92,475" fill="none" stroke="#2b9fe0" stroke-width="1.55" stroke-linejoin="miter"/>
<circle cx="34.65" cy="461.5" r="1.55" fill="#fff" stroke="#2b9fe0" stroke-width="1.15"/>
<circle cx="34.65" cy="463.2" r="1.55" fill="#fff" stroke="#2b9fe0" stroke-width="1.15"/>
<circle cx="34.65" cy="462.8" r="1.55" fill="#fff" stroke="#2b9fe0" stroke-width="1.15"/>
<polyline points="39.23,475 39.23,465.07 41.77,465.07 41.77,475" fill="none" stroke="#f36a23" stroke-width="1.55" stroke-linejoin="miter"/>
<circle cx="40.5" cy="463.5" r="1.55" fill="#fff" stroke="#f36a23" stroke-width="1.15"/>
<circle cx="40.5" cy="462.5" r="1.55" fill="#fff" stroke="#f36a23" stroke-width="1.15"/>
<circle cx="40.5" cy="465.5" r="1.55" fill="#fff" stroke="#f36a23" stroke-width="1.15"/>
<polyline points="45.02,475 45.02,461.97 47.57,461.97 47.57,475" fill="none" stroke="#2fb24a" stroke-width="1.55" stroke-linejoin="miter"/>
<circle cx="46.3" cy="460.8" r="1.55" fill="#fff" stroke="#2fb24a" stroke-width="1.15"/>
<circle cx="46.3" cy="461.6" r="1.55" fill="#fff" stroke="#2fb24a" stroke-width="1.15"/>
<circle cx="46.3" cy="462.2" r="1.55" fill="#fff" stroke="#2fb24a" stroke-width="1.15"/>
<polyline points="50.82,475 50.82,436.27 53.37,436.27 53.37,475" fill="none" stroke="#111111" stroke-width="1.55" stroke-linejoin="miter"/>
<circle cx="52.1" cy="429.2" r="1.55" fill="#fff" stroke="#111111" stroke-width="1.15"/>
<circle cx="52.1" cy="432.3" r="1.55" fill="#fff" stroke="#111111" stroke-width="1.15"/>
<circle cx="52.1" cy="442.8" r="1.55" fill="#fff" stroke="#111111" stroke-width="1.15"/>
<line x1="70.5" y1="475" x2="70.5" y2="478.2" stroke="#111" stroke-width="0.9"/>
<text x="70.5" y="482.8" font-size="5.2" text-anchor="middle" font-family="'Liberation Sans', sans-serif" font-weight="bold" fill="#111" dominant-baseline="central">OAS1</text>
<polyline points="60.48,475 60.48,463.27 63.02,463.27 63.02,475" fill="none" stroke="#2b9fe0" stroke-width="1.55" stroke-linejoin="miter"/>
<circle cx="61.75" cy="462.2" r="1.55" fill="#fff" stroke="#2b9fe0" stroke-width="1.15"/>
<circle cx="61.75" cy="462.8" r="1.55" fill="#fff" stroke="#2b9fe0" stroke-width="1.15"/>
<circle cx="61.75" cy="462.5" r="1.55" fill="#fff" stroke="#2b9fe0" stroke-width="1.15"/>
<polyline points="66.33,475 66.33,456.47 68.87,456.47 68.87,475" fill="none" stroke="#f36a23" stroke-width="1.55" stroke-linejoin="miter"/>
<circle cx="67.6" cy="452" r="1.55" fill="#fff" stroke="#f36a23" stroke-width="1.15"/>
<circle cx="67.6" cy="455.5" r="1.55" fill="#fff" stroke="#f36a23" stroke-width="1.15"/>
<circle cx="67.6" cy="458.5" r="1.55" fill="#fff" stroke="#f36a23" stroke-width="1.15"/>
<polyline points="72.13,475 72.13,463.07 74.67,463.07 74.67,475" fill="none" stroke="#2fb24a" stroke-width="1.55" stroke-linejoin="miter"/>
<circle cx="73.4" cy="461.8" r="1.55" fill="#fff" stroke="#2fb24a" stroke-width="1.15"/>
<circle cx="73.4" cy="462.6" r="1.55" fill="#fff" stroke="#2fb24a" stroke-width="1.15"/>
<circle cx="73.4" cy="462.4" r="1.55" fill="#fff" stroke="#2fb24a" stroke-width="1.15"/>
<polyline points="77.93,475 77.93,444.77 80.47,444.77 80.47,475" fill="none" stroke="#111111" stroke-width="1.55" stroke-linejoin="miter"/>
<circle cx="79.2" cy="443" r="1.55" fill="#fff" stroke="#111111" stroke-width="1.15"/>
<circle cx="79.2" cy="444.5" r="1.55" fill="#fff" stroke="#111111" stroke-width="1.15"/>
<circle cx="79.2" cy="445.2" r="1.55" fill="#fff" stroke="#111111" stroke-width="1.15"/>
<line x1="97.6" y1="475" x2="97.6" y2="478.2" stroke="#111" stroke-width="0.9"/>
<text x="97.6" y="482.8" font-size="5.2" text-anchor="middle" font-family="'Liberation Sans', sans-serif" font-weight="bold" fill="#111" dominant-baseline="central">OAS2</text>
<polyline points="87.58,475 87.58,463.67 90.12,463.67 90.12,475" fill="none" stroke="#2b9fe0" stroke-width="1.55" stroke-linejoin="miter"/>
<circle cx="88.85" cy="462.5" r="1.55" fill="#fff" stroke="#2b9fe0" stroke-width="1.15"/>
<circle cx="88.85" cy="463.2" r="1.55" fill="#fff" stroke="#2b9fe0" stroke-width="1.15"/>
<circle cx="88.85" cy="462.9" r="1.55" fill="#fff" stroke="#2b9fe0" stroke-width="1.15"/>
<polyline points="93.42,475 93.42,462.88 95.97,462.88 95.97,475" fill="none" stroke="#f36a23" stroke-width="1.55" stroke-linejoin="miter"/>
<circle cx="94.7" cy="461.5" r="1.55" fill="#fff" stroke="#f36a23" stroke-width="1.15"/>
<circle cx="94.7" cy="462.6" r="1.55" fill="#fff" stroke="#f36a23" stroke-width="1.15"/>
<circle cx="94.7" cy="462.2" r="1.55" fill="#fff" stroke="#f36a23" stroke-width="1.15"/>
<polyline points="99.23,475 99.23,463.57 101.77,463.57 101.77,475" fill="none" stroke="#2fb24a" stroke-width="1.55" stroke-linejoin="miter"/>
<circle cx="100.5" cy="459.6" r="1.55" fill="#fff" stroke="#2fb24a" stroke-width="1.15"/>
<circle cx="100.5" cy="463.2" r="1.55" fill="#fff" stroke="#2fb24a" stroke-width="1.15"/>
<circle cx="100.5" cy="463.8" r="1.55" fill="#fff" stroke="#2fb24a" stroke-width="1.15"/>
<polyline points="105.03,475 105.03,390.97 107.57,390.97 107.57,475" fill="none" stroke="#111111" stroke-width="1.55" stroke-linejoin="miter"/>
<circle cx="106.3" cy="388.7" r="1.55" fill="#fff" stroke="#111111" stroke-width="1.15"/>
<circle cx="106.3" cy="389.8" r="1.55" fill="#fff" stroke="#111111" stroke-width="1.15"/>
<circle cx="106.3" cy="390.8" r="1.55" fill="#fff" stroke="#111111" stroke-width="1.15"/>
<line x1="124.6" y1="475" x2="124.6" y2="478.2" stroke="#111" stroke-width="0.9"/>
<text x="124.6" y="482.8" font-size="5.2" text-anchor="middle" font-family="'Liberation Sans', sans-serif" font-weight="bold" fill="#111" dominant-baseline="central">STAT3</text>
<polyline points="114.58,475 114.58,462.88 117.12,462.88 117.12,475" fill="none" stroke="#2b9fe0" stroke-width="1.55" stroke-linejoin="miter"/>
<circle cx="115.85" cy="461.6" r="1.55" fill="#fff" stroke="#2b9fe0" stroke-width="1.15"/>
<circle cx="115.85" cy="462.4" r="1.55" fill="#fff" stroke="#2b9fe0" stroke-width="1.15"/>
<circle cx="115.85" cy="462" r="1.55" fill="#fff" stroke="#2b9fe0" stroke-width="1.15"/>
<polyline points="120.42,475 120.42,466.17 122.97,466.17 122.97,475" fill="none" stroke="#f36a23" stroke-width="1.55" stroke-linejoin="miter"/>
<circle cx="121.7" cy="465" r="1.55" fill="#fff" stroke="#f36a23" stroke-width="1.15"/>
<circle cx="121.7" cy="465.8" r="1.55" fill="#fff" stroke="#f36a23" stroke-width="1.15"/>
<circle cx="121.7" cy="465.2" r="1.55" fill="#fff" stroke="#f36a23" stroke-width="1.15"/>
<polyline points="126.23,475 126.23,463.67 128.78,463.67 128.78,475" fill="none" stroke="#2fb24a" stroke-width="1.55" stroke-linejoin="miter"/>
<circle cx="127.5" cy="462" r="1.55" fill="#fff" stroke="#2fb24a" stroke-width="1.15"/>
<circle cx="127.5" cy="463.2" r="1.55" fill="#fff" stroke="#2fb24a" stroke-width="1.15"/>
<circle cx="127.5" cy="462.8" r="1.55" fill="#fff" stroke="#2fb24a" stroke-width="1.15"/>
<polyline points="132.02,475 132.02,467.97 134.57,467.97 134.57,475" fill="none" stroke="#111111" stroke-width="1.55" stroke-linejoin="miter"/>
<circle cx="133.3" cy="466.8" r="1.55" fill="#fff" stroke="#111111" stroke-width="1.15"/>
<circle cx="133.3" cy="467.5" r="1.55" fill="#fff" stroke="#111111" stroke-width="1.15"/>
<circle cx="133.3" cy="467.6" r="1.55" fill="#fff" stroke="#111111" stroke-width="1.15"/>
<line x1="151.7" y1="475" x2="151.7" y2="478.2" stroke="#111" stroke-width="0.9"/>
<text x="151.7" y="482.8" font-size="5.2" text-anchor="middle" font-family="'Liberation Sans', sans-serif" font-weight="bold" fill="#111" dominant-baseline="central">TLR4</text>
<polyline points="141.67,475 141.67,462.77 144.22,462.77 144.22,475" fill="none" stroke="#2b9fe0" stroke-width="1.55" stroke-linejoin="miter"/>
<circle cx="142.95" cy="457.8" r="1.55" fill="#fff" stroke="#2b9fe0" stroke-width="1.15"/>
<circle cx="142.95" cy="462.5" r="1.55" fill="#fff" stroke="#2b9fe0" stroke-width="1.15"/>
<circle cx="142.95" cy="465.5" r="1.55" fill="#fff" stroke="#2b9fe0" stroke-width="1.15"/>
<polyline points="147.52,475 147.52,427.07 150.07,427.07 150.07,475" fill="none" stroke="#f36a23" stroke-width="1.55" stroke-linejoin="miter"/>
<circle cx="148.8" cy="425.5" r="1.55" fill="#fff" stroke="#f36a23" stroke-width="1.15"/>
<circle cx="148.8" cy="427.8" r="1.55" fill="#fff" stroke="#f36a23" stroke-width="1.15"/>
<circle cx="148.8" cy="426.8" r="1.55" fill="#fff" stroke="#f36a23" stroke-width="1.15"/>
<polyline points="153.32,475 153.32,461.67 155.88,461.67 155.88,475" fill="none" stroke="#2fb24a" stroke-width="1.55" stroke-linejoin="miter"/>
<circle cx="154.6" cy="459.5" r="1.55" fill="#fff" stroke="#2fb24a" stroke-width="1.15"/>
<circle cx="154.6" cy="461.2" r="1.55" fill="#fff" stroke="#2fb24a" stroke-width="1.15"/>
<circle cx="154.6" cy="462" r="1.55" fill="#fff" stroke="#2fb24a" stroke-width="1.15"/>
<polyline points="159.12,475 159.12,455.38 161.67,455.38 161.67,475" fill="none" stroke="#111111" stroke-width="1.55" stroke-linejoin="miter"/>
<circle cx="160.4" cy="447.7" r="1.55" fill="#fff" stroke="#111111" stroke-width="1.15"/>
<circle cx="160.4" cy="454.4" r="1.55" fill="#fff" stroke="#111111" stroke-width="1.15"/>
<circle cx="160.4" cy="456" r="1.55" fill="#fff" stroke="#111111" stroke-width="1.15"/>
<line x1="178.9" y1="475" x2="178.9" y2="478.2" stroke="#111" stroke-width="0.9"/>
<text x="178.9" y="482.8" font-size="5.2" text-anchor="middle" font-family="'Liberation Sans', sans-serif" font-weight="bold" fill="#111" dominant-baseline="central">IRF3</text>
<polyline points="168.88,475 168.88,463.67 171.43,463.67 171.43,475" fill="none" stroke="#2b9fe0" stroke-width="1.55" stroke-linejoin="miter"/>
<circle cx="170.15" cy="462.4" r="1.55" fill="#fff" stroke="#2b9fe0" stroke-width="1.15"/>
<circle cx="170.15" cy="463" r="1.55" fill="#fff" stroke="#2b9fe0" stroke-width="1.15"/>
<circle cx="170.15" cy="463.4" r="1.55" fill="#fff" stroke="#2b9fe0" stroke-width="1.15"/>
<polyline points="174.72,475 174.72,463.67 177.28,463.67 177.28,475" fill="none" stroke="#f36a23" stroke-width="1.55" stroke-linejoin="miter"/>
<circle cx="176" cy="462.4" r="1.55" fill="#fff" stroke="#f36a23" stroke-width="1.15"/>
<circle cx="176" cy="463.2" r="1.55" fill="#fff" stroke="#f36a23" stroke-width="1.15"/>
<circle cx="176" cy="462.8" r="1.55" fill="#fff" stroke="#f36a23" stroke-width="1.15"/>
<polyline points="180.53,475 180.53,464.67 183.08,464.67 183.08,475" fill="none" stroke="#2fb24a" stroke-width="1.55" stroke-linejoin="miter"/>
<circle cx="181.8" cy="463.2" r="1.55" fill="#fff" stroke="#2fb24a" stroke-width="1.15"/>
<circle cx="181.8" cy="464.2" r="1.55" fill="#fff" stroke="#2fb24a" stroke-width="1.15"/>
<circle cx="181.8" cy="463.9" r="1.55" fill="#fff" stroke="#2fb24a" stroke-width="1.15"/>
<circle cx="187.6" cy="474" r="1.55" fill="#fff" stroke="#111111" stroke-width="1.15"/>
<line x1="205.9" y1="475" x2="205.9" y2="478.2" stroke="#111" stroke-width="0.9"/>
<text x="205.9" y="482.8" font-size="5.2" text-anchor="middle" font-family="'Liberation Sans', sans-serif" font-weight="bold" fill="#111" dominant-baseline="central">IRF7</text>
<polyline points="195.88,475 195.88,462.88 198.43,462.88 198.43,475" fill="none" stroke="#2b9fe0" stroke-width="1.55" stroke-linejoin="miter"/>
<circle cx="197.15" cy="459.6" r="1.55" fill="#fff" stroke="#2b9fe0" stroke-width="1.15"/>
<circle cx="197.15" cy="463.2" r="1.55" fill="#fff" stroke="#2b9fe0" stroke-width="1.15"/>
<circle cx="197.15" cy="465.5" r="1.55" fill="#fff" stroke="#2b9fe0" stroke-width="1.15"/>
<polyline points="201.72,475 201.72,445.97 204.28,445.97 204.28,475" fill="none" stroke="#f36a23" stroke-width="1.55" stroke-linejoin="miter"/>
<circle cx="203" cy="444.8" r="1.55" fill="#fff" stroke="#f36a23" stroke-width="1.15"/>
<circle cx="203" cy="445.4" r="1.55" fill="#fff" stroke="#f36a23" stroke-width="1.15"/>
<circle cx="203" cy="445.9" r="1.55" fill="#fff" stroke="#f36a23" stroke-width="1.15"/>
<polyline points="207.53,475 207.53,462.17 210.08,462.17 210.08,475" fill="none" stroke="#2fb24a" stroke-width="1.55" stroke-linejoin="miter"/>
<circle cx="208.8" cy="460.8" r="1.55" fill="#fff" stroke="#2fb24a" stroke-width="1.15"/>
<circle cx="208.8" cy="461.6" r="1.55" fill="#fff" stroke="#2fb24a" stroke-width="1.15"/>
<circle cx="208.8" cy="462.4" r="1.55" fill="#fff" stroke="#2fb24a" stroke-width="1.15"/>
<polyline points="213.32,475 213.32,452.77 215.88,452.77 215.88,475" fill="none" stroke="#111111" stroke-width="1.55" stroke-linejoin="miter"/>
<circle cx="214.6" cy="451.2" r="1.55" fill="#fff" stroke="#111111" stroke-width="1.15"/>
<circle cx="214.6" cy="452.5" r="1.55" fill="#fff" stroke="#111111" stroke-width="1.15"/>
<circle cx="214.6" cy="453" r="1.55" fill="#fff" stroke="#111111" stroke-width="1.15"/>
<line x1="32.9" y1="457.3" x2="43" y2="457.3" stroke="#444" stroke-width="0.65"/>
<text x="37.9" y="452.2" font-size="4.8" text-anchor="middle" font-family="'Liberation Sans', sans-serif" font-weight="normal" fill="#555" dominant-baseline="central">ns</text>
<line x1="39.3" y1="426.2" x2="51.4" y2="426.2" stroke="#444" stroke-width="0.65"/>
<text x="45.3" y="423.4" font-size="8.6" text-anchor="middle" font-family="'Liberation Sans', sans-serif" font-weight="bold" fill="#000" dominant-baseline="central">*</text>
<line x1="57.2" y1="449.3" x2="68.6" y2="449.3" stroke="#444" stroke-width="0.65"/>
<text x="62.9" y="446.5" font-size="8.6" text-anchor="middle" font-family="'Liberation Sans', sans-serif" font-weight="bold" fill="#000" dominant-baseline="central">***</text>
<line x1="69.4" y1="439.1" x2="81.1" y2="439.1" stroke="#444" stroke-width="0.65"/>
<text x="75.2" y="436.3" font-size="8.6" text-anchor="middle" font-family="'Liberation Sans', sans-serif" font-weight="bold" fill="#000" dominant-baseline="central">***</text>
<line x1="85.8" y1="457.1" x2="95.4" y2="457.1" stroke="#444" stroke-width="0.65"/>
<text x="90.5" y="451.7" font-size="4.8" text-anchor="middle" font-family="'Liberation Sans', sans-serif" font-weight="normal" fill="#555" dominant-baseline="central">ns</text>
<line x1="95.4" y1="383.9" x2="106.5" y2="383.9" stroke="#444" stroke-width="0.65"/>
<text x="101" y="381.1" font-size="8.6" text-anchor="middle" font-family="'Liberation Sans', sans-serif" font-weight="bold" fill="#000" dominant-baseline="central">***</text>
<line x1="110" y1="458.8" x2="121.4" y2="458.8" stroke="#444" stroke-width="0.65"/>
<text x="115.7" y="456" font-size="8.6" text-anchor="middle" font-family="'Liberation Sans', sans-serif" font-weight="bold" fill="#000" dominant-baseline="central">***</text>
<line x1="124.5" y1="459.9" x2="137.8" y2="459.9" stroke="#444" stroke-width="0.65"/>
<text x="131" y="457.1" font-size="8.6" text-anchor="middle" font-family="'Liberation Sans', sans-serif" font-weight="bold" fill="#000" dominant-baseline="central">****</text>
<line x1="139.1" y1="421" x2="147.9" y2="421" stroke="#444" stroke-width="0.65"/>
<text x="143.5" y="418.2" font-size="8.6" text-anchor="middle" font-family="'Liberation Sans', sans-serif" font-weight="bold" fill="#000" dominant-baseline="central">****</text>
<line x1="154.2" y1="443.7" x2="166.1" y2="443.7" stroke="#444" stroke-width="0.65"/>
<text x="160" y="440.9" font-size="8.6" text-anchor="middle" font-family="'Liberation Sans', sans-serif" font-weight="bold" fill="#000" dominant-baseline="central">****</text>
<line x1="168.6" y1="459.6" x2="177" y2="459.6" stroke="#444" stroke-width="0.65"/>
<text x="172.6" y="454" font-size="4.8" text-anchor="middle" font-family="'Liberation Sans', sans-serif" font-weight="normal" fill="#555" dominant-baseline="central">ns</text>
<line x1="180.2" y1="460.4" x2="191.3" y2="460.4" stroke="#444" stroke-width="0.65"/>
<text x="185.4" y="457.6" font-size="8.6" text-anchor="middle" font-family="'Liberation Sans', sans-serif" font-weight="bold" fill="#000" dominant-baseline="central">***</text>
<line x1="195.4" y1="439.4" x2="207.2" y2="439.4" stroke="#444" stroke-width="0.65"/>
<text x="201.3" y="436.6" font-size="8.6" text-anchor="middle" font-family="'Liberation Sans', sans-serif" font-weight="bold" fill="#000" dominant-baseline="central">****</text>
<line x1="208" y1="447" x2="219" y2="447" stroke="#444" stroke-width="0.65"/>
<text x="213.5" y="444.2" font-size="8.6" text-anchor="middle" font-family="'Liberation Sans', sans-serif" font-weight="bold" fill="#000" dominant-baseline="central">****</text>
<circle cx="219" cy="384.6" r="1.7" fill="#fff" stroke="#2b9fe0" stroke-width="1.15"/>
<text x="229.7" y="384.6" font-size="4.9" text-anchor="start" font-family="'Liberation Sans', sans-serif" font-weight="normal" fill="#111" dominant-baseline="central">SiHa-WT</text>
<circle cx="219" cy="392.9" r="1.7" fill="#fff" stroke="#f36a23" stroke-width="1.15"/>
<text x="229.7" y="392.9" font-size="4.9" text-anchor="start" font-family="'Liberation Sans', sans-serif" font-weight="normal" fill="#111" dominant-baseline="central">YTHDF3</text>
<text x="248.96" y="391.4" font-size="2.94" text-anchor="start" font-family="'Liberation Sans', sans-serif" font-weight="normal" fill="#111" dominant-baseline="central">-/-</text>
<text x="252.93" y="392.9" font-size="4.9" text-anchor="start" font-family="'Liberation Sans', sans-serif" font-weight="normal" fill="#111" dominant-baseline="central">SiHa</text>
<circle cx="219" cy="401.1" r="1.7" fill="#fff" stroke="#2fb24a" stroke-width="1.15"/>
<text x="229.7" y="401.1" font-size="4.9" text-anchor="start" font-family="'Liberation Sans', sans-serif" font-weight="normal" fill="#111" dominant-baseline="central">Caski-shNC</text>
<circle cx="219" cy="410.9" r="1.7" fill="#fff" stroke="#111111" stroke-width="1.15"/>
<text x="229.7" y="410.9" font-size="4.9" text-anchor="start" font-family="'Liberation Sans', sans-serif" font-weight="normal" fill="#111" dominant-baseline="central">Caski-shYTHDF3</text>
<text x="281.9" y="376.02" font-size="11.2" text-anchor="start" font-family="'Liberation Serif', serif" font-weight="bold" fill="#000" dominant-baseline="central">F</text>
<line x1="303.3" y1="381.5" x2="303.3" y2="477.9" stroke="#111" stroke-width="1.1"/>
<line x1="300.3" y1="477.3" x2="303.3" y2="477.3" stroke="#111" stroke-width="0.9"/>
<text x="298.6" y="477.3" font-size="5.2" text-anchor="end" font-family="'Liberation Sans', sans-serif" font-weight="bold" fill="#111" dominant-baseline="central">0</text>
<line x1="300.3" y1="453.55" x2="303.3" y2="453.55" stroke="#111" stroke-width="0.9"/>
<text x="298.6" y="453.55" font-size="5.2" text-anchor="end" font-family="'Liberation Sans', sans-serif" font-weight="bold" fill="#111" dominant-baseline="central">5</text>
<line x1="300.3" y1="429.8" x2="303.3" y2="429.8" stroke="#111" stroke-width="0.9"/>
<text x="298.6" y="429.8" font-size="5.2" text-anchor="end" font-family="'Liberation Sans', sans-serif" font-weight="bold" fill="#111" dominant-baseline="central">10</text>
<line x1="300.3" y1="406.05" x2="303.3" y2="406.05" stroke="#111" stroke-width="0.9"/>
<text x="298.6" y="406.05" font-size="5.2" text-anchor="end" font-family="'Liberation Sans', sans-serif" font-weight="bold" fill="#111" dominant-baseline="central">15</text>
<line x1="300.3" y1="382.3" x2="303.3" y2="382.3" stroke="#111" stroke-width="0.9"/>
<text x="298.6" y="382.3" font-size="5.2" text-anchor="end" font-family="'Liberation Sans', sans-serif" font-weight="bold" fill="#111" dominant-baseline="central">20</text>
<line x1="302.8" y1="477.3" x2="445.1" y2="477.3" stroke="#111" stroke-width="1.2"/>
<text x="282.6" y="430.6" font-size="5" text-anchor="middle" font-family="'Liberation Sans', sans-serif" font-weight="bold" fill="#111" dominant-baseline="central" transform="rotate(-90 282.6 430.6)">Relative mRNA expression</text>
<line x1="327.5" y1="477.3" x2="327.5" y2="480.5" stroke="#111" stroke-width="0.9"/>
<text x="327.5" y="484.8" font-size="4.9" text-anchor="middle" font-family="'Liberation Sans', sans-serif" font-weight="bold" fill="#111" dominant-baseline="central">IFN-α</text>
<polyline points="307.9,477.3 307.9,470.25 312.1,470.25 312.1,477.3" fill="none" stroke="#2b9fe0" stroke-width="1.5" stroke-linejoin="miter"/>
<circle cx="310" cy="468.4" r="1.45" fill="#fff" stroke="#2b9fe0" stroke-width="1.15"/>
<circle cx="310" cy="471.5" r="1.45" fill="#fff" stroke="#2b9fe0" stroke-width="1.15"/>
<circle cx="310" cy="472.6" r="1.45" fill="#fff" stroke="#2b9fe0" stroke-width="1.15"/>
<polyline points="318.35,477.3 318.35,461.15 322.55,461.15 322.55,477.3" fill="none" stroke="#f36a23" stroke-width="1.5" stroke-linejoin="miter"/>
<circle cx="320.45" cy="460" r="1.45" fill="#fff" stroke="#f36a23" stroke-width="1.15"/>
<circle cx="320.45" cy="460.8" r="1.45" fill="#fff" stroke="#f36a23" stroke-width="1.15"/>
<circle cx="320.45" cy="461.4" r="1.45" fill="#fff" stroke="#f36a23" stroke-width="1.15"/>
<polyline points="328.95,477.3 328.95,472.95 333.15,472.95 333.15,477.3" fill="none" stroke="#2fb24a" stroke-width="1.5" stroke-linejoin="miter"/>
<circle cx="331.05" cy="471.5" r="1.45" fill="#fff" stroke="#2fb24a" stroke-width="1.15"/>
<circle cx="331.05" cy="473" r="1.45" fill="#fff" stroke="#2fb24a" stroke-width="1.15"/>
<circle cx="331.05" cy="473.6" r="1.45" fill="#fff" stroke="#2fb24a" stroke-width="1.15"/>
<polyline points="339.45,477.3 339.45,457.25 343.65,457.25 343.65,477.3" fill="none" stroke="#111111" stroke-width="1.5" stroke-linejoin="miter"/>
<circle cx="341.55" cy="457.8" r="1.45" fill="#fff" stroke="#111111" stroke-width="1.15"/>
<circle cx="341.55" cy="460.4" r="1.45" fill="#fff" stroke="#111111" stroke-width="1.15"/>
<circle cx="341.55" cy="460" r="1.45" fill="#fff" stroke="#111111" stroke-width="1.15"/>
<line x1="376" y1="477.3" x2="376" y2="480.5" stroke="#111" stroke-width="0.9"/>
<text x="376" y="484.8" font-size="4.9" text-anchor="middle" font-family="'Liberation Sans', sans-serif" font-weight="bold" fill="#111" dominant-baseline="central">IFN-β</text>
<polyline points="356.4,477.3 356.4,472.95 360.6,472.95 360.6,477.3" fill="none" stroke="#2b9fe0" stroke-width="1.5" stroke-linejoin="miter"/>
<circle cx="358.5" cy="471.5" r="1.45" fill="#fff" stroke="#2b9fe0" stroke-width="1.15"/>
<circle cx="358.5" cy="472.5" r="1.45" fill="#fff" stroke="#2b9fe0" stroke-width="1.15"/>
<circle cx="358.5" cy="473.2" r="1.45" fill="#fff" stroke="#2b9fe0" stroke-width="1.15"/>
<polyline points="366.85,477.3 366.85,474.75 371.05,474.75 371.05,477.3" fill="none" stroke="#f36a23" stroke-width="1.5" stroke-linejoin="miter"/>
<circle cx="368.95" cy="473.5" r="1.45" fill="#fff" stroke="#f36a23" stroke-width="1.15"/>
<circle cx="368.95" cy="474.2" r="1.45" fill="#fff" stroke="#f36a23" stroke-width="1.15"/>
<circle cx="368.95" cy="474.6" r="1.45" fill="#fff" stroke="#f36a23" stroke-width="1.15"/>
<polyline points="377.45,477.3 377.45,471.75 381.65,471.75 381.65,477.3" fill="none" stroke="#2fb24a" stroke-width="1.5" stroke-linejoin="miter"/>
<circle cx="379.55" cy="469.8" r="1.45" fill="#fff" stroke="#2fb24a" stroke-width="1.15"/>
<circle cx="379.55" cy="471.5" r="1.45" fill="#fff" stroke="#2fb24a" stroke-width="1.15"/>
<circle cx="379.55" cy="472.2" r="1.45" fill="#fff" stroke="#2fb24a" stroke-width="1.15"/>
<polyline points="387.95,477.3 387.95,411.15 392.15,411.15 392.15,477.3" fill="none" stroke="#111111" stroke-width="1.5" stroke-linejoin="miter"/>
<circle cx="390.05" cy="399" r="1.45" fill="#fff" stroke="#111111" stroke-width="1.15"/>
<circle cx="390.05" cy="402.8" r="1.45" fill="#fff" stroke="#111111" stroke-width="1.15"/>
<circle cx="390.05" cy="426.8" r="1.45" fill="#fff" stroke="#111111" stroke-width="1.15"/>
<line x1="424.4" y1="477.3" x2="424.4" y2="480.5" stroke="#111" stroke-width="0.9"/>
<text x="424.4" y="484.8" font-size="4.9" text-anchor="middle" font-family="'Liberation Sans', sans-serif" font-weight="bold" fill="#111" dominant-baseline="central">IFN-γ</text>
<polyline points="404.8,477.3 404.8,471.15 409,471.15 409,477.3" fill="none" stroke="#2b9fe0" stroke-width="1.5" stroke-linejoin="miter"/>
<circle cx="406.9" cy="468.5" r="1.45" fill="#fff" stroke="#2b9fe0" stroke-width="1.15"/>
<circle cx="406.9" cy="471.5" r="1.45" fill="#fff" stroke="#2b9fe0" stroke-width="1.15"/>
<circle cx="406.9" cy="473.6" r="1.45" fill="#fff" stroke="#2b9fe0" stroke-width="1.15"/>
<polyline points="415.25,477.3 415.25,434.35 419.45,434.35 419.45,477.3" fill="none" stroke="#f36a23" stroke-width="1.5" stroke-linejoin="miter"/>
<circle cx="417.35" cy="429.3" r="1.45" fill="#fff" stroke="#f36a23" stroke-width="1.15"/>
<circle cx="417.35" cy="432" r="1.45" fill="#fff" stroke="#f36a23" stroke-width="1.15"/>
<circle cx="417.35" cy="442" r="1.45" fill="#fff" stroke="#f36a23" stroke-width="1.15"/>
<polyline points="425.85,477.3 425.85,472.95 430.05,472.95 430.05,477.3" fill="none" stroke="#2fb24a" stroke-width="1.5" stroke-linejoin="miter"/>
<circle cx="427.95" cy="471.5" r="1.45" fill="#fff" stroke="#2fb24a" stroke-width="1.15"/>
<circle cx="427.95" cy="472.6" r="1.45" fill="#fff" stroke="#2fb24a" stroke-width="1.15"/>
<circle cx="427.95" cy="473.2" r="1.45" fill="#fff" stroke="#2fb24a" stroke-width="1.15"/>
<polyline points="436.35,477.3 436.35,464.65 440.55,464.65 440.55,477.3" fill="none" stroke="#111111" stroke-width="1.5" stroke-linejoin="miter"/>
<circle cx="438.45" cy="460.4" r="1.45" fill="#fff" stroke="#111111" stroke-width="1.15"/>
<circle cx="438.45" cy="463.5" r="1.45" fill="#fff" stroke="#111111" stroke-width="1.15"/>
<circle cx="438.45" cy="465" r="1.45" fill="#fff" stroke="#111111" stroke-width="1.15"/>
<line x1="389.8" y1="394" x2="389.8" y2="412" stroke="#111111" stroke-width="0.7"/>
<line x1="387.8" y1="394" x2="391.8" y2="394" stroke="#111111" stroke-width="0.7"/>
<line x1="417.3" y1="427.5" x2="417.3" y2="436" stroke="#f36a23" stroke-width="0.7"/>
<line x1="415.3" y1="427.5" x2="419.3" y2="427.5" stroke="#f36a23" stroke-width="0.7"/>
<line x1="438.5" y1="458.6" x2="438.5" y2="466" stroke="#111111" stroke-width="0.7"/>
<line x1="436.5" y1="458.6" x2="440.5" y2="458.6" stroke="#111111" stroke-width="0.7"/>
<line x1="312.4" y1="455.3" x2="320.5" y2="455.3" stroke="#444" stroke-width="0.65"/>
<text x="316.2" y="452.5" font-size="8.6" text-anchor="middle" font-family="'Liberation Sans', sans-serif" font-weight="bold" fill="#000" dominant-baseline="central">*</text>
<line x1="333" y1="453.3" x2="341.9" y2="453.3" stroke="#444" stroke-width="0.65"/>
<text x="337.4" y="450.5" font-size="8.6" text-anchor="middle" font-family="'Liberation Sans', sans-serif" font-weight="bold" fill="#000" dominant-baseline="central">**</text>
<line x1="358.3" y1="465.4" x2="365.9" y2="465.4" stroke="#444" stroke-width="0.65"/>
<text x="362.2" y="462.6" font-size="8.6" text-anchor="middle" font-family="'Liberation Sans', sans-serif" font-weight="bold" fill="#000" dominant-baseline="central">**</text>
<line x1="382.8" y1="391.5" x2="391.1" y2="391.5" stroke="#444" stroke-width="0.65"/>
<text x="387" y="388.7" font-size="8.6" text-anchor="middle" font-family="'Liberation Sans', sans-serif" font-weight="bold" fill="#000" dominant-baseline="central">**</text>
<line x1="410.3" y1="423" x2="419.1" y2="423" stroke="#444" stroke-width="0.65"/>
<text x="414.7" y="417.7" font-size="4.8" text-anchor="middle" font-family="'Liberation Sans', sans-serif" font-weight="normal" fill="#555" dominant-baseline="central">ns</text>
<line x1="433.5" y1="458.3" x2="441.8" y2="458.3" stroke="#444" stroke-width="0.65"/>
<text x="438" y="455.5" font-size="8.6" text-anchor="middle" font-family="'Liberation Sans', sans-serif" font-weight="bold" fill="#000" dominant-baseline="central">*</text>
<circle cx="446.9" cy="383.8" r="1.7" fill="#fff" stroke="#2b9fe0" stroke-width="1.15"/>
<text x="457.7" y="383.8" font-size="4.95" text-anchor="start" font-family="'Liberation Sans', sans-serif" font-weight="normal" fill="#111" dominant-baseline="central">SiHa-WT</text>
<circle cx="446.9" cy="391.6" r="1.7" fill="#fff" stroke="#f36a23" stroke-width="1.15"/>
<text x="457.7" y="391.6" font-size="4.95" text-anchor="start" font-family="'Liberation Sans', sans-serif" font-weight="normal" fill="#111" dominant-baseline="central">YTHDF3</text>
<text x="477.15" y="390.1" font-size="2.97" text-anchor="start" font-family="'Liberation Sans', sans-serif" font-weight="normal" fill="#111" dominant-baseline="central">-/-</text>
<text x="481.15" y="391.6" font-size="4.95" text-anchor="start" font-family="'Liberation Sans', sans-serif" font-weight="normal" fill="#111" dominant-baseline="central">SiHa</text>
<circle cx="446.9" cy="398.9" r="1.7" fill="#fff" stroke="#2fb24a" stroke-width="1.15"/>
<text x="457.7" y="398.9" font-size="4.95" text-anchor="start" font-family="'Liberation Sans', sans-serif" font-weight="normal" fill="#111" dominant-baseline="central">Caski-shNC</text>
<circle cx="446.9" cy="405.8" r="1.7" fill="#fff" stroke="#111111" stroke-width="1.15"/>
<text x="457.7" y="405.8" font-size="4.95" text-anchor="start" font-family="'Liberation Sans', sans-serif" font-weight="normal" fill="#111" dominant-baseline="central">Caski-shYTHDF3</text>
<text x="498.4" y="378.42" font-size="10.6" text-anchor="start" font-family="'Liberation Serif', serif" font-weight="bold" fill="#000" dominant-baseline="central">G</text>
<line x1="545" y1="382.8" x2="545" y2="476.3" stroke="#111" stroke-width="1.1"/>
<line x1="542" y1="475.7" x2="545" y2="475.7" stroke="#111" stroke-width="0.9"/>
<text x="540.4" y="475.7" font-size="5" text-anchor="end" font-family="'Liberation Sans', sans-serif" font-weight="bold" fill="#111" dominant-baseline="central">200</text>
<line x1="542" y1="452.62" x2="545" y2="452.62" stroke="#111" stroke-width="0.9"/>
<text x="540.4" y="452.62" font-size="5" text-anchor="end" font-family="'Liberation Sans', sans-serif" font-weight="bold" fill="#111" dominant-baseline="central">220</text>
<line x1="542" y1="429.54" x2="545" y2="429.54" stroke="#111" stroke-width="0.9"/>
<text x="540.4" y="429.54" font-size="5" text-anchor="end" font-family="'Liberation Sans', sans-serif" font-weight="bold" fill="#111" dominant-baseline="central">240</text>
<line x1="542" y1="406.46" x2="545" y2="406.46" stroke="#111" stroke-width="0.9"/>
<text x="540.4" y="406.46" font-size="5" text-anchor="end" font-family="'Liberation Sans', sans-serif" font-weight="bold" fill="#111" dominant-baseline="central">260</text>
<line x1="542" y1="383.38" x2="545" y2="383.38" stroke="#111" stroke-width="0.9"/>
<text x="540.4" y="383.38" font-size="5" text-anchor="end" font-family="'Liberation Sans', sans-serif" font-weight="bold" fill="#111" dominant-baseline="central">280</text>
<line x1="544.1" y1="475.7" x2="637.7" y2="475.7" stroke="#111" stroke-width="1.2"/>
<text x="524.3" y="431.2" font-size="4.9" text-anchor="middle" font-family="'Liberation Sans', sans-serif" font-weight="bold" fill="#111" dominant-baseline="central" transform="rotate(-90 524.3 431.2)">IFN-α  (pg/ml)</text>
<line x1="571.6" y1="475.7" x2="571.6" y2="478.9" stroke="#111" stroke-width="0.9"/>
<text x="571.6" y="483.8" font-size="4.9" text-anchor="middle" font-family="'Liberation Sans', sans-serif" font-weight="bold" fill="#111" dominant-baseline="central">TC-1-siNC</text>
<line x1="611.2" y1="475.7" x2="611.2" y2="478.9" stroke="#111" stroke-width="0.9"/>
<text x="611.2" y="483.8" font-size="4.9" text-anchor="middle" font-family="'Liberation Sans', sans-serif" font-weight="bold" fill="#111" dominant-baseline="central">TC-1-siYTHDF3</text>
<polyline points="559.7,475.7 559.7,460.3 583.5,460.3 583.5,475.7" fill="none" stroke="#2b9fe0" stroke-width="1.6"/>
<polyline points="599.4,475.7 599.4,414.4 622.9,414.4 622.9,475.7" fill="none" stroke="#f36a23" stroke-width="1.6"/>
<line x1="571.6" y1="449.5" x2="571.6" y2="468.2" stroke="#2b9fe0" stroke-width="0.8"/>
<line x1="565" y1="449.5" x2="578.2" y2="449.5" stroke="#2b9fe0" stroke-width="0.8"/>
<line x1="565" y1="468.2" x2="578.2" y2="468.2" stroke="#2b9fe0" stroke-width="0.8"/>
<line x1="611.2" y1="392.8" x2="611.2" y2="432" stroke="#f6a57a" stroke-width="0.8"/>
<line x1="605.3" y1="392.8" x2="617.5" y2="392.8" stroke="#f36a23" stroke-width="0.8"/>
<line x1="605.3" y1="432" x2="617.5" y2="432" stroke="#f36a23" stroke-width="0.8"/>
<circle cx="571.6" cy="449.5" r="1.65" fill="#fff" stroke="#2b9fe0" stroke-width="0.95"/>
<circle cx="571.6" cy="458.7" r="1.65" fill="#fff" stroke="#2b9fe0" stroke-width="0.95"/>
<circle cx="571.6" cy="468.2" r="1.65" fill="#fff" stroke="#2b9fe0" stroke-width="0.95"/>
<circle cx="611.2" cy="392" r="1.65" fill="#fff" stroke="#f36a23" stroke-width="0.95"/>
<circle cx="611.2" cy="416.3" r="1.65" fill="#fff" stroke="#f36a23" stroke-width="0.95"/>
<circle cx="611.2" cy="430.6" r="1.65" fill="#fff" stroke="#f36a23" stroke-width="0.95"/>
<polyline points="570.8,388 570.8,383.4 610.2,383.4 610.2,388" fill="none" stroke="#333" stroke-width="0.7"/>
<text x="589.9" y="380.7" font-size="8.6" text-anchor="middle" font-family="'Liberation Sans', sans-serif" font-weight="bold" fill="#000" dominant-baseline="central">*</text>
<circle cx="639.1" cy="384.4" r="1.65" fill="#fff" stroke="#2b9fe0" stroke-width="1"/>
<text x="649.9" y="384.4" font-size="4.9" text-anchor="start" font-family="'Liberation Sans', sans-serif" font-weight="normal" fill="#111" dominant-baseline="central">TC-1-siNC</text>
<circle cx="639.1" cy="396.9" r="1.65" fill="#fff" stroke="#f36a23" stroke-width="1"/>
<text x="649.9" y="396.9" font-size="4.9" text-anchor="start" font-family="'Liberation Sans', sans-serif" font-weight="normal" fill="#111" dominant-baseline="central">TC-1-siYTHDF3</text></svg>
</body></html>
